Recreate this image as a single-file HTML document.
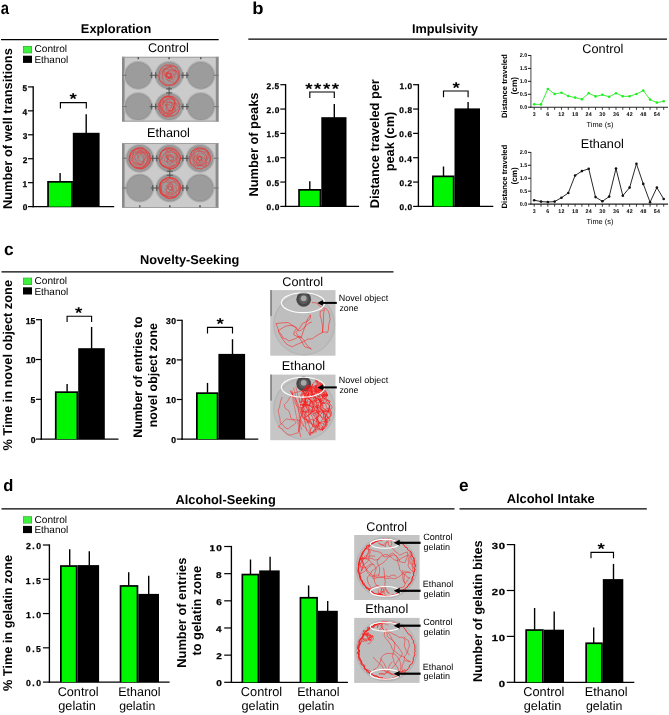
<!DOCTYPE html>
<html><head><meta charset="utf-8"><style>
html,body{margin:0;padding:0;background:#fff;}
svg{display:block;font-family:"Liberation Sans",sans-serif;text-rendering:geometricPrecision;will-change:transform;}
</style></head><body>
<svg width="669" height="715" viewBox="0 0 669 715">
<rect width="669" height="715" fill="#fff"/>
<text x="0.85" y="13.70" font-size="17.50" font-weight="bold" fill="#000" textLength="8.26" lengthAdjust="spacingAndGlyphs">a</text>
<text x="252.38" y="13.60" font-size="17.20" font-weight="bold" fill="#000" textLength="11.27" lengthAdjust="spacingAndGlyphs">b</text>
<text x="3.91" y="254.50" font-size="17.28" font-weight="bold" fill="#000" textLength="9.61" lengthAdjust="spacingAndGlyphs">c</text>
<text x="3.31" y="490.60" font-size="16.60" font-weight="bold" fill="#000" textLength="10.10" lengthAdjust="spacingAndGlyphs">d</text>
<text x="458.91" y="490.60" font-size="17.22" font-weight="bold" fill="#000" textLength="9.58" lengthAdjust="spacingAndGlyphs">e</text>
<line x1="1.00" y1="39.60" x2="218.70" y2="39.60" stroke="#000" stroke-width="1.3"/>
<text x="80.86" y="33.40" font-size="12.79" font-weight="bold" fill="#000" textLength="70.34" lengthAdjust="spacingAndGlyphs">Exploration</text>
<line x1="248.30" y1="39.20" x2="667.00" y2="39.20" stroke="#000" stroke-width="1.3"/>
<text x="411.96" y="33.20" font-size="12.66" font-weight="bold" fill="#000" textLength="66.11" lengthAdjust="spacingAndGlyphs">Impulsivity</text>
<line x1="1.50" y1="271.90" x2="393.50" y2="271.90" stroke="#000" stroke-width="1.3"/>
<text x="139.96" y="264.00" font-size="12.77" font-weight="bold" fill="#000" textLength="99.39" lengthAdjust="spacingAndGlyphs">Novelty-Seeking</text>
<line x1="1.50" y1="508.90" x2="454.50" y2="508.90" stroke="#000" stroke-width="1.3"/>
<text x="175.47" y="503.50" font-size="12.80" font-weight="bold" fill="#000" textLength="100.28" lengthAdjust="spacingAndGlyphs">Alcohol-Seeking</text>
<line x1="459.50" y1="508.80" x2="646.80" y2="508.80" stroke="#000" stroke-width="1.3"/>
<text x="506.66" y="503.20" font-size="12.89" font-weight="bold" fill="#000" textLength="88.08" lengthAdjust="spacingAndGlyphs">Alcohol Intake</text>
<rect x="23.00" y="46.10" width="9.00" height="7.20" fill="#2a9a2a"/>
<rect x="23.50" y="46.60" width="8.00" height="6.20" fill="#40f040"/>
<rect x="23.00" y="55.70" width="9.00" height="7.20" fill="#000"/>
<text x="34.49" y="52.40" font-size="10.10" fill="#000" textLength="32.57" lengthAdjust="spacingAndGlyphs">Control</text>
<text x="34.38" y="62.90" font-size="9.99" fill="#000" textLength="33.87" lengthAdjust="spacingAndGlyphs">Ethanol</text>
<line x1="33.20" y1="86.30" x2="33.20" y2="207.28" stroke="#000" stroke-width="1.35"/>
<line x1="32.53" y1="206.60" x2="114.20" y2="206.60" stroke="#000" stroke-width="1.35"/>
<line x1="28.00" y1="206.60" x2="33.20" y2="206.60" stroke="#000" stroke-width="1.2"/>
<text x="22.72" y="210.46" font-size="8.30" font-weight="bold" fill="#000" stroke="#000" stroke-width="0.25">0</text>
<line x1="28.00" y1="182.66" x2="33.20" y2="182.66" stroke="#000" stroke-width="1.2"/>
<text x="22.62" y="186.52" font-size="8.30" font-weight="bold" fill="#000" stroke="#000" stroke-width="0.25">1</text>
<line x1="28.00" y1="158.72" x2="33.20" y2="158.72" stroke="#000" stroke-width="1.2"/>
<text x="22.72" y="162.62" font-size="8.30" font-weight="bold" fill="#000" stroke="#000" stroke-width="0.25">2</text>
<line x1="28.00" y1="134.78" x2="33.20" y2="134.78" stroke="#000" stroke-width="1.2"/>
<text x="22.68" y="138.63" font-size="8.30" font-weight="bold" fill="#000" stroke="#000" stroke-width="0.25">3</text>
<line x1="28.00" y1="110.84" x2="33.20" y2="110.84" stroke="#000" stroke-width="1.2"/>
<text x="22.44" y="114.70" font-size="8.30" font-weight="bold" fill="#000" stroke="#000" stroke-width="0.25">4</text>
<line x1="28.00" y1="86.90" x2="33.20" y2="86.90" stroke="#000" stroke-width="1.2"/>
<text x="22.62" y="90.71" font-size="8.30" font-weight="bold" fill="#000" stroke="#000" stroke-width="0.25">5</text>
<rect x="47.20" y="181.00" width="25.70" height="25.60" fill="#000"/>
<rect x="48.90" y="182.70" width="22.30" height="23.90" fill="#00f500"/>
<rect x="72.80" y="132.80" width="26.80" height="73.80" fill="#000"/>
<line x1="60.10" y1="181.50" x2="60.10" y2="173.00" stroke="#000" stroke-width="1.4"/>
<line x1="86.20" y1="133.30" x2="86.20" y2="114.20" stroke="#000" stroke-width="1.4"/>
<polyline points="60.40,108.60 60.40,102.60 86.30,102.60 86.30,108.60" fill="none" stroke="#000" stroke-width="1.15"/>
<text font-size="15.59" font-weight="bold" transform="translate(73.20 96.20) scale(1.203 1) translate(-3.06 7.83)">*</text>
<text x="11.90" y="209.05" font-size="12.81" font-weight="bold" fill="#000" textLength="160.85" lengthAdjust="spacingAndGlyphs" transform="rotate(-90 11.90 209.05)">Number of well transitions</text>
<line x1="285.60" y1="84.10" x2="285.60" y2="207.08" stroke="#000" stroke-width="1.35"/>
<line x1="284.93" y1="206.40" x2="359.10" y2="206.40" stroke="#000" stroke-width="1.35"/>
<line x1="280.30" y1="206.40" x2="285.60" y2="206.40" stroke="#000" stroke-width="1.2"/>
<text x="266.60" y="210.26" font-size="8.30" font-weight="bold" fill="#000" letter-spacing="0.6" stroke="#000" stroke-width="0.25">0.0</text>
<line x1="280.30" y1="182.06" x2="285.60" y2="182.06" stroke="#000" stroke-width="1.2"/>
<text x="266.50" y="185.92" font-size="8.30" font-weight="bold" fill="#000" letter-spacing="0.6" stroke="#000" stroke-width="0.25">0.5</text>
<line x1="280.30" y1="157.72" x2="285.60" y2="157.72" stroke="#000" stroke-width="1.2"/>
<text x="266.60" y="161.58" font-size="8.30" font-weight="bold" fill="#000" letter-spacing="0.6" stroke="#000" stroke-width="0.25">1.0</text>
<line x1="280.30" y1="133.38" x2="285.60" y2="133.38" stroke="#000" stroke-width="1.2"/>
<text x="266.50" y="137.19" font-size="8.30" font-weight="bold" fill="#000" letter-spacing="0.6" stroke="#000" stroke-width="0.25">1.5</text>
<line x1="280.30" y1="109.04" x2="285.60" y2="109.04" stroke="#000" stroke-width="1.2"/>
<text x="266.60" y="112.90" font-size="8.30" font-weight="bold" fill="#000" letter-spacing="0.6" stroke="#000" stroke-width="0.25">2.0</text>
<line x1="280.30" y1="84.70" x2="285.60" y2="84.70" stroke="#000" stroke-width="1.2"/>
<text x="266.50" y="88.56" font-size="8.30" font-weight="bold" fill="#000" letter-spacing="0.6" stroke="#000" stroke-width="0.25">2.5</text>
<rect x="298.20" y="189.00" width="23.10" height="17.40" fill="#000"/>
<rect x="299.90" y="190.70" width="19.70" height="15.70" fill="#00f500"/>
<rect x="321.30" y="117.20" width="25.20" height="89.20" fill="#000"/>
<line x1="309.80" y1="189.50" x2="309.80" y2="181.20" stroke="#000" stroke-width="1.4"/>
<line x1="334.30" y1="117.70" x2="334.30" y2="104.00" stroke="#000" stroke-width="1.4"/>
<polyline points="309.80,97.90 309.80,92.00 334.30,92.00 334.30,97.90" fill="none" stroke="#000" stroke-width="1.15"/>
<text font-size="15.59" font-weight="bold" transform="translate(308.85 86.20) scale(1.203 1) translate(-3.06 7.83)">*</text>
<text font-size="15.59" font-weight="bold" transform="translate(317.75 86.20) scale(1.203 1) translate(-3.06 7.83)">*</text>
<text font-size="15.59" font-weight="bold" transform="translate(326.65 86.20) scale(1.203 1) translate(-3.06 7.83)">*</text>
<text font-size="15.59" font-weight="bold" transform="translate(335.55 86.20) scale(1.203 1) translate(-3.06 7.83)">*</text>
<text x="258.20" y="196.55" font-size="12.82" font-weight="bold" fill="#000" textLength="104.05" lengthAdjust="spacingAndGlyphs" transform="rotate(-90 258.20 196.55)">Number of peaks</text>
<line x1="418.40" y1="84.10" x2="418.40" y2="207.08" stroke="#000" stroke-width="1.35"/>
<line x1="417.72" y1="206.40" x2="493.30" y2="206.40" stroke="#000" stroke-width="1.35"/>
<line x1="413.10" y1="206.40" x2="418.40" y2="206.40" stroke="#000" stroke-width="1.2"/>
<text x="399.39" y="210.26" font-size="8.30" font-weight="bold" fill="#000" letter-spacing="0.6" stroke="#000" stroke-width="0.25">0.0</text>
<line x1="413.10" y1="182.06" x2="418.40" y2="182.06" stroke="#000" stroke-width="1.2"/>
<text x="399.39" y="185.92" font-size="8.30" font-weight="bold" fill="#000" letter-spacing="0.6" stroke="#000" stroke-width="0.25">0.2</text>
<line x1="413.10" y1="157.72" x2="418.40" y2="157.72" stroke="#000" stroke-width="1.2"/>
<text x="399.11" y="161.58" font-size="8.30" font-weight="bold" fill="#000" letter-spacing="0.6" stroke="#000" stroke-width="0.25">0.4</text>
<line x1="413.10" y1="133.38" x2="418.40" y2="133.38" stroke="#000" stroke-width="1.2"/>
<text x="399.36" y="137.24" font-size="8.30" font-weight="bold" fill="#000" letter-spacing="0.6" stroke="#000" stroke-width="0.25">0.6</text>
<line x1="413.10" y1="109.04" x2="418.40" y2="109.04" stroke="#000" stroke-width="1.2"/>
<text x="399.31" y="112.90" font-size="8.30" font-weight="bold" fill="#000" letter-spacing="0.6" stroke="#000" stroke-width="0.25">0.8</text>
<line x1="413.10" y1="84.70" x2="418.40" y2="84.70" stroke="#000" stroke-width="1.2"/>
<text x="399.39" y="88.56" font-size="8.30" font-weight="bold" fill="#000" letter-spacing="0.6" stroke="#000" stroke-width="0.25">1.0</text>
<rect x="432.00" y="175.50" width="22.50" height="30.90" fill="#000"/>
<rect x="433.70" y="177.20" width="19.10" height="29.20" fill="#00f500"/>
<rect x="454.50" y="108.40" width="25.50" height="98.00" fill="#000"/>
<line x1="443.50" y1="176.00" x2="443.50" y2="166.50" stroke="#000" stroke-width="1.4"/>
<line x1="468.10" y1="108.90" x2="468.10" y2="102.00" stroke="#000" stroke-width="1.4"/>
<polyline points="443.50,97.30 443.50,91.00 468.10,91.00 468.10,97.30" fill="none" stroke="#000" stroke-width="1.15"/>
<text font-size="15.59" font-weight="bold" transform="translate(456.10 85.20) scale(1.203 1) translate(-3.06 7.83)">*</text>
<text x="378.60" y="208.24" font-size="12.76" font-weight="bold" fill="#000" textLength="129.04" lengthAdjust="spacingAndGlyphs" transform="rotate(-90 378.60 208.24)">Distance traveled per</text>
<text x="394.30" y="171.34" font-size="12.78" font-weight="bold" fill="#000" textLength="59.66" lengthAdjust="spacingAndGlyphs" transform="rotate(-90 394.30 171.34)">peak (cm)</text>
<line x1="530.90" y1="55.08" x2="530.90" y2="107.70" stroke="#666" stroke-width="1.2"/>
<line x1="530.40" y1="107.20" x2="668.00" y2="107.20" stroke="#222" stroke-width="1.1"/>
<line x1="528.00" y1="107.20" x2="530.90" y2="107.20" stroke="#000" stroke-width="0.9"/>
<text x="519.77" y="109.20" font-size="5.50" font-weight="bold" fill="#000">0.0</text>
<line x1="528.00" y1="94.27" x2="530.90" y2="94.27" stroke="#000" stroke-width="0.9"/>
<text x="519.71" y="96.27" font-size="5.50" font-weight="bold" fill="#000">0.5</text>
<line x1="528.00" y1="81.34" x2="530.90" y2="81.34" stroke="#000" stroke-width="0.9"/>
<text x="519.77" y="83.34" font-size="5.50" font-weight="bold" fill="#000">1.0</text>
<line x1="528.00" y1="68.41" x2="530.90" y2="68.41" stroke="#000" stroke-width="0.9"/>
<text x="519.71" y="70.41" font-size="5.50" font-weight="bold" fill="#000">1.5</text>
<line x1="528.00" y1="55.48" x2="530.90" y2="55.48" stroke="#000" stroke-width="0.9"/>
<text x="519.77" y="57.48" font-size="5.50" font-weight="bold" fill="#000">2.0</text>
<line x1="534.20" y1="107.20" x2="534.20" y2="109.80" stroke="#222" stroke-width="0.9"/>
<line x1="541.02" y1="107.20" x2="541.02" y2="109.80" stroke="#222" stroke-width="0.9"/>
<line x1="547.83" y1="107.20" x2="547.83" y2="109.80" stroke="#222" stroke-width="0.9"/>
<line x1="554.65" y1="107.20" x2="554.65" y2="109.80" stroke="#222" stroke-width="0.9"/>
<line x1="561.46" y1="107.20" x2="561.46" y2="109.80" stroke="#222" stroke-width="0.9"/>
<line x1="568.28" y1="107.20" x2="568.28" y2="109.80" stroke="#222" stroke-width="0.9"/>
<line x1="575.10" y1="107.20" x2="575.10" y2="109.80" stroke="#222" stroke-width="0.9"/>
<line x1="581.91" y1="107.20" x2="581.91" y2="109.80" stroke="#222" stroke-width="0.9"/>
<line x1="588.73" y1="107.20" x2="588.73" y2="109.80" stroke="#222" stroke-width="0.9"/>
<line x1="595.54" y1="107.20" x2="595.54" y2="109.80" stroke="#222" stroke-width="0.9"/>
<line x1="602.36" y1="107.20" x2="602.36" y2="109.80" stroke="#222" stroke-width="0.9"/>
<line x1="609.18" y1="107.20" x2="609.18" y2="109.80" stroke="#222" stroke-width="0.9"/>
<line x1="615.99" y1="107.20" x2="615.99" y2="109.80" stroke="#222" stroke-width="0.9"/>
<line x1="622.81" y1="107.20" x2="622.81" y2="109.80" stroke="#222" stroke-width="0.9"/>
<line x1="629.62" y1="107.20" x2="629.62" y2="109.80" stroke="#222" stroke-width="0.9"/>
<line x1="636.44" y1="107.20" x2="636.44" y2="109.80" stroke="#222" stroke-width="0.9"/>
<line x1="643.26" y1="107.20" x2="643.26" y2="109.80" stroke="#222" stroke-width="0.9"/>
<line x1="650.07" y1="107.20" x2="650.07" y2="109.80" stroke="#222" stroke-width="0.9"/>
<line x1="656.89" y1="107.20" x2="656.89" y2="109.80" stroke="#222" stroke-width="0.9"/>
<line x1="663.70" y1="107.20" x2="663.70" y2="109.80" stroke="#222" stroke-width="0.9"/>
<text x="532.76" y="115.80" font-size="5.30" font-weight="bold" fill="#000" letter-spacing="0.3">3</text>
<text x="546.36" y="115.80" font-size="5.30" font-weight="bold" fill="#000" letter-spacing="0.3">6</text>
<text x="558.30" y="115.80" font-size="5.30" font-weight="bold" fill="#000" letter-spacing="0.3">12</text>
<text x="571.91" y="115.80" font-size="5.30" font-weight="bold" fill="#000" letter-spacing="0.3">18</text>
<text x="585.56" y="115.80" font-size="5.30" font-weight="bold" fill="#000" letter-spacing="0.3">24</text>
<text x="599.31" y="115.80" font-size="5.30" font-weight="bold" fill="#000" letter-spacing="0.3">30</text>
<text x="612.93" y="115.80" font-size="5.30" font-weight="bold" fill="#000" letter-spacing="0.3">36</text>
<text x="626.59" y="115.80" font-size="5.30" font-weight="bold" fill="#000" letter-spacing="0.3">42</text>
<text x="640.20" y="115.80" font-size="5.30" font-weight="bold" fill="#000" letter-spacing="0.3">48</text>
<text x="653.72" y="115.80" font-size="5.30" font-weight="bold" fill="#000" letter-spacing="0.3">54</text>
<path d="M534.20,104.30 L541.02,104.40 L547.83,89.00 L554.65,94.00 L561.46,92.70 L568.28,96.00 L575.10,97.60 L581.91,99.30 L588.73,93.20 L595.54,96.40 L602.36,94.80 L609.18,96.80 L615.99,93.20 L622.81,96.30 L629.62,96.30 L636.44,94.00 L643.26,90.60 L650.07,99.60 L656.89,102.60 L663.70,101.30" fill="none" stroke="#22ee22" stroke-width="0.9"/>
<circle cx="534.20" cy="104.30" r="1.3" fill="#22ee22"/>
<circle cx="541.02" cy="104.40" r="1.3" fill="#22ee22"/>
<circle cx="547.83" cy="89.00" r="1.3" fill="#22ee22"/>
<circle cx="554.65" cy="94.00" r="1.3" fill="#22ee22"/>
<circle cx="561.46" cy="92.70" r="1.3" fill="#22ee22"/>
<circle cx="568.28" cy="96.00" r="1.3" fill="#22ee22"/>
<circle cx="575.10" cy="97.60" r="1.3" fill="#22ee22"/>
<circle cx="581.91" cy="99.30" r="1.3" fill="#22ee22"/>
<circle cx="588.73" cy="93.20" r="1.3" fill="#22ee22"/>
<circle cx="595.54" cy="96.40" r="1.3" fill="#22ee22"/>
<circle cx="602.36" cy="94.80" r="1.3" fill="#22ee22"/>
<circle cx="609.18" cy="96.80" r="1.3" fill="#22ee22"/>
<circle cx="615.99" cy="93.20" r="1.3" fill="#22ee22"/>
<circle cx="622.81" cy="96.30" r="1.3" fill="#22ee22"/>
<circle cx="629.62" cy="96.30" r="1.3" fill="#22ee22"/>
<circle cx="636.44" cy="94.00" r="1.3" fill="#22ee22"/>
<circle cx="643.26" cy="90.60" r="1.3" fill="#22ee22"/>
<circle cx="650.07" cy="99.60" r="1.3" fill="#22ee22"/>
<circle cx="656.89" cy="102.60" r="1.3" fill="#22ee22"/>
<circle cx="663.70" cy="101.30" r="1.3" fill="#22ee22"/>
<text x="586.54" y="126.90" font-size="7.39" fill="#000" textLength="26.83" lengthAdjust="spacingAndGlyphs">Time (s)</text>
<text x="582.36" y="53.20" font-size="12.71" fill="#000" textLength="40.97" lengthAdjust="spacingAndGlyphs">Control</text>
<text x="507.30" y="118.01" font-size="7.71" font-weight="bold" fill="#000" textLength="63.83" lengthAdjust="spacingAndGlyphs" transform="rotate(-90 507.30 118.01)">Distance traveled</text>
<text x="516.90" y="94.52" font-size="8.35" font-weight="bold" fill="#000" textLength="17.63" lengthAdjust="spacingAndGlyphs" transform="rotate(-90 516.90 94.52)">(cm)</text>
<line x1="530.90" y1="151.98" x2="530.90" y2="204.60" stroke="#666" stroke-width="1.2"/>
<line x1="530.40" y1="204.10" x2="668.00" y2="204.10" stroke="#222" stroke-width="1.1"/>
<line x1="528.00" y1="204.10" x2="530.90" y2="204.10" stroke="#000" stroke-width="0.9"/>
<text x="519.77" y="206.10" font-size="5.50" font-weight="bold" fill="#000">0.0</text>
<line x1="528.00" y1="191.17" x2="530.90" y2="191.17" stroke="#000" stroke-width="0.9"/>
<text x="519.71" y="193.17" font-size="5.50" font-weight="bold" fill="#000">0.5</text>
<line x1="528.00" y1="178.24" x2="530.90" y2="178.24" stroke="#000" stroke-width="0.9"/>
<text x="519.77" y="180.24" font-size="5.50" font-weight="bold" fill="#000">1.0</text>
<line x1="528.00" y1="165.31" x2="530.90" y2="165.31" stroke="#000" stroke-width="0.9"/>
<text x="519.71" y="167.31" font-size="5.50" font-weight="bold" fill="#000">1.5</text>
<line x1="528.00" y1="152.38" x2="530.90" y2="152.38" stroke="#000" stroke-width="0.9"/>
<text x="519.77" y="154.38" font-size="5.50" font-weight="bold" fill="#000">2.0</text>
<line x1="534.20" y1="204.10" x2="534.20" y2="206.70" stroke="#222" stroke-width="0.9"/>
<line x1="541.02" y1="204.10" x2="541.02" y2="206.70" stroke="#222" stroke-width="0.9"/>
<line x1="547.83" y1="204.10" x2="547.83" y2="206.70" stroke="#222" stroke-width="0.9"/>
<line x1="554.65" y1="204.10" x2="554.65" y2="206.70" stroke="#222" stroke-width="0.9"/>
<line x1="561.46" y1="204.10" x2="561.46" y2="206.70" stroke="#222" stroke-width="0.9"/>
<line x1="568.28" y1="204.10" x2="568.28" y2="206.70" stroke="#222" stroke-width="0.9"/>
<line x1="575.10" y1="204.10" x2="575.10" y2="206.70" stroke="#222" stroke-width="0.9"/>
<line x1="581.91" y1="204.10" x2="581.91" y2="206.70" stroke="#222" stroke-width="0.9"/>
<line x1="588.73" y1="204.10" x2="588.73" y2="206.70" stroke="#222" stroke-width="0.9"/>
<line x1="595.54" y1="204.10" x2="595.54" y2="206.70" stroke="#222" stroke-width="0.9"/>
<line x1="602.36" y1="204.10" x2="602.36" y2="206.70" stroke="#222" stroke-width="0.9"/>
<line x1="609.18" y1="204.10" x2="609.18" y2="206.70" stroke="#222" stroke-width="0.9"/>
<line x1="615.99" y1="204.10" x2="615.99" y2="206.70" stroke="#222" stroke-width="0.9"/>
<line x1="622.81" y1="204.10" x2="622.81" y2="206.70" stroke="#222" stroke-width="0.9"/>
<line x1="629.62" y1="204.10" x2="629.62" y2="206.70" stroke="#222" stroke-width="0.9"/>
<line x1="636.44" y1="204.10" x2="636.44" y2="206.70" stroke="#222" stroke-width="0.9"/>
<line x1="643.26" y1="204.10" x2="643.26" y2="206.70" stroke="#222" stroke-width="0.9"/>
<line x1="650.07" y1="204.10" x2="650.07" y2="206.70" stroke="#222" stroke-width="0.9"/>
<line x1="656.89" y1="204.10" x2="656.89" y2="206.70" stroke="#222" stroke-width="0.9"/>
<line x1="663.70" y1="204.10" x2="663.70" y2="206.70" stroke="#222" stroke-width="0.9"/>
<text x="532.76" y="212.70" font-size="5.30" font-weight="bold" fill="#000" letter-spacing="0.3">3</text>
<text x="546.36" y="212.70" font-size="5.30" font-weight="bold" fill="#000" letter-spacing="0.3">6</text>
<text x="558.30" y="212.70" font-size="5.30" font-weight="bold" fill="#000" letter-spacing="0.3">12</text>
<text x="571.91" y="212.70" font-size="5.30" font-weight="bold" fill="#000" letter-spacing="0.3">18</text>
<text x="585.56" y="212.70" font-size="5.30" font-weight="bold" fill="#000" letter-spacing="0.3">24</text>
<text x="599.31" y="212.70" font-size="5.30" font-weight="bold" fill="#000" letter-spacing="0.3">30</text>
<text x="612.93" y="212.70" font-size="5.30" font-weight="bold" fill="#000" letter-spacing="0.3">36</text>
<text x="626.59" y="212.70" font-size="5.30" font-weight="bold" fill="#000" letter-spacing="0.3">42</text>
<text x="640.20" y="212.70" font-size="5.30" font-weight="bold" fill="#000" letter-spacing="0.3">48</text>
<text x="653.72" y="212.70" font-size="5.30" font-weight="bold" fill="#000" letter-spacing="0.3">54</text>
<path d="M534.20,200.20 L541.02,201.60 L547.83,202.00 L554.65,201.60 L561.46,197.70 L568.28,193.00 L575.10,175.50 L581.91,171.10 L588.73,168.80 L595.54,197.10 L602.36,201.30 L609.18,196.60 L615.99,168.50 L622.81,195.70 L629.62,187.60 L636.44,163.80 L643.26,183.90 L650.07,202.20 L656.89,187.60 L663.70,199.00" fill="none" stroke="#111" stroke-width="0.9"/>
<circle cx="534.20" cy="200.20" r="1.3" fill="#111"/>
<circle cx="541.02" cy="201.60" r="1.3" fill="#111"/>
<circle cx="547.83" cy="202.00" r="1.3" fill="#111"/>
<circle cx="554.65" cy="201.60" r="1.3" fill="#111"/>
<circle cx="561.46" cy="197.70" r="1.3" fill="#111"/>
<circle cx="568.28" cy="193.00" r="1.3" fill="#111"/>
<circle cx="575.10" cy="175.50" r="1.3" fill="#111"/>
<circle cx="581.91" cy="171.10" r="1.3" fill="#111"/>
<circle cx="588.73" cy="168.80" r="1.3" fill="#111"/>
<circle cx="595.54" cy="197.10" r="1.3" fill="#111"/>
<circle cx="602.36" cy="201.30" r="1.3" fill="#111"/>
<circle cx="609.18" cy="196.60" r="1.3" fill="#111"/>
<circle cx="615.99" cy="168.50" r="1.3" fill="#111"/>
<circle cx="622.81" cy="195.70" r="1.3" fill="#111"/>
<circle cx="629.62" cy="187.60" r="1.3" fill="#111"/>
<circle cx="636.44" cy="163.80" r="1.3" fill="#111"/>
<circle cx="643.26" cy="183.90" r="1.3" fill="#111"/>
<circle cx="650.07" cy="202.20" r="1.3" fill="#111"/>
<circle cx="656.89" cy="187.60" r="1.3" fill="#111"/>
<circle cx="663.70" cy="199.00" r="1.3" fill="#111"/>
<text x="586.54" y="223.80" font-size="7.39" fill="#000" textLength="26.83" lengthAdjust="spacingAndGlyphs">Time (s)</text>
<text x="580.76" y="148.00" font-size="12.70" fill="#000" textLength="43.07" lengthAdjust="spacingAndGlyphs">Ethanol</text>
<text x="507.30" y="208.51" font-size="7.71" font-weight="bold" fill="#000" textLength="63.83" lengthAdjust="spacingAndGlyphs" transform="rotate(-90 507.30 208.51)">Distance traveled</text>
<text x="516.90" y="184.41" font-size="8.10" font-weight="bold" fill="#000" textLength="17.10" lengthAdjust="spacingAndGlyphs" transform="rotate(-90 516.90 184.41)">(cm)</text>
<rect x="23.00" y="277.70" width="9.00" height="7.20" fill="#2a9a2a"/>
<rect x="23.50" y="278.20" width="8.00" height="6.20" fill="#40f040"/>
<rect x="23.00" y="287.30" width="9.00" height="7.20" fill="#000"/>
<text x="34.49" y="284.20" font-size="10.10" fill="#000" textLength="32.57" lengthAdjust="spacingAndGlyphs">Control</text>
<text x="34.38" y="294.60" font-size="9.99" fill="#000" textLength="33.87" lengthAdjust="spacingAndGlyphs">Ethanol</text>
<line x1="41.30" y1="319.10" x2="41.30" y2="439.78" stroke="#000" stroke-width="1.35"/>
<line x1="40.62" y1="439.10" x2="118.50" y2="439.10" stroke="#000" stroke-width="1.35"/>
<line x1="36.00" y1="439.10" x2="41.30" y2="439.10" stroke="#000" stroke-width="1.2"/>
<text x="30.66" y="443.06" font-size="8.60" font-weight="bold" fill="#000" stroke="#000" stroke-width="0.25">0</text>
<line x1="36.00" y1="399.30" x2="41.30" y2="399.30" stroke="#000" stroke-width="1.2"/>
<text x="30.56" y="403.22" font-size="8.60" font-weight="bold" fill="#000" stroke="#000" stroke-width="0.25">5</text>
<line x1="36.00" y1="359.50" x2="41.30" y2="359.50" stroke="#000" stroke-width="1.2"/>
<text x="25.88" y="363.46" font-size="8.60" font-weight="bold" fill="#000" stroke="#000" stroke-width="0.25">10</text>
<line x1="36.00" y1="319.70" x2="41.30" y2="319.70" stroke="#000" stroke-width="1.2"/>
<text x="25.78" y="323.62" font-size="8.60" font-weight="bold" fill="#000" stroke="#000" stroke-width="0.25">15</text>
<rect x="54.90" y="391.30" width="23.30" height="47.80" fill="#000"/>
<rect x="56.60" y="393.00" width="19.90" height="46.10" fill="#00f500"/>
<rect x="78.20" y="348.20" width="26.60" height="90.90" fill="#000"/>
<line x1="67.10" y1="391.80" x2="67.10" y2="383.90" stroke="#000" stroke-width="1.4"/>
<line x1="91.60" y1="348.70" x2="91.60" y2="326.90" stroke="#000" stroke-width="1.4"/>
<polyline points="67.10,322.00 67.10,316.20 91.60,316.20 91.60,322.00" fill="none" stroke="#000" stroke-width="1.15"/>
<text font-size="15.59" font-weight="bold" transform="translate(78.60 310.40) scale(1.203 1) translate(-3.06 7.83)">*</text>
<text x="12.00" y="450.61" font-size="12.81" font-weight="bold" fill="#000" textLength="170.64" lengthAdjust="spacingAndGlyphs" transform="rotate(-90 12.00 450.61)">% Time in novel object zone</text>
<line x1="182.10" y1="319.70" x2="182.10" y2="439.78" stroke="#000" stroke-width="1.35"/>
<line x1="181.42" y1="439.10" x2="258.30" y2="439.10" stroke="#000" stroke-width="1.35"/>
<line x1="176.80" y1="439.10" x2="182.10" y2="439.10" stroke="#000" stroke-width="1.2"/>
<text x="171.16" y="443.06" font-size="8.60" font-weight="bold" fill="#000" letter-spacing="0.3" stroke="#000" stroke-width="0.25">0</text>
<line x1="176.80" y1="399.50" x2="182.10" y2="399.50" stroke="#000" stroke-width="1.2"/>
<text x="166.08" y="403.46" font-size="8.60" font-weight="bold" fill="#000" letter-spacing="0.3" stroke="#000" stroke-width="0.25">10</text>
<line x1="176.80" y1="359.90" x2="182.10" y2="359.90" stroke="#000" stroke-width="1.2"/>
<text x="166.08" y="363.86" font-size="8.60" font-weight="bold" fill="#000" letter-spacing="0.3" stroke="#000" stroke-width="0.25">20</text>
<line x1="176.80" y1="320.30" x2="182.10" y2="320.30" stroke="#000" stroke-width="1.2"/>
<text x="166.08" y="324.25" font-size="8.60" font-weight="bold" fill="#000" letter-spacing="0.3" stroke="#000" stroke-width="0.25">30</text>
<rect x="196.00" y="392.30" width="22.40" height="46.80" fill="#000"/>
<rect x="197.70" y="394.00" width="19.00" height="45.10" fill="#00f500"/>
<rect x="218.40" y="353.90" width="26.70" height="85.20" fill="#000"/>
<line x1="207.50" y1="392.80" x2="207.50" y2="382.90" stroke="#000" stroke-width="1.4"/>
<line x1="232.50" y1="354.40" x2="232.50" y2="339.20" stroke="#000" stroke-width="1.4"/>
<polyline points="207.50,333.60 207.50,327.30 232.50,327.30 232.50,333.60" fill="none" stroke="#000" stroke-width="1.15"/>
<text font-size="15.59" font-weight="bold" transform="translate(220.10 321.20) scale(1.203 1) translate(-3.06 7.83)">*</text>
<text x="142.10" y="437.72" font-size="12.41" font-weight="bold" fill="#000" textLength="121.40" lengthAdjust="spacingAndGlyphs" transform="rotate(-90 142.10 437.72)">Number of entries to</text>
<text x="157.40" y="427.32" font-size="12.42" font-weight="bold" fill="#000" textLength="104.25" lengthAdjust="spacingAndGlyphs" transform="rotate(-90 157.40 427.32)">novel object zone</text>
<rect x="23.00" y="516.30" width="9.00" height="7.20" fill="#2a9a2a"/>
<rect x="23.50" y="516.80" width="8.00" height="6.20" fill="#40f040"/>
<rect x="23.00" y="525.90" width="9.00" height="7.20" fill="#000"/>
<text x="34.49" y="522.90" font-size="10.10" fill="#000" textLength="32.57" lengthAdjust="spacingAndGlyphs">Control</text>
<text x="34.38" y="533.20" font-size="9.99" fill="#000" textLength="33.87" lengthAdjust="spacingAndGlyphs">Ethanol</text>
<line x1="49.40" y1="544.40" x2="49.40" y2="682.77" stroke="#000" stroke-width="1.35"/>
<line x1="48.73" y1="682.10" x2="169.60" y2="682.10" stroke="#000" stroke-width="1.35"/>
<line x1="42.90" y1="682.10" x2="49.40" y2="682.10" stroke="#000" stroke-width="1.2"/>
<text x="25.95" y="686.49" font-size="8.70" font-weight="bold" fill="#000" letter-spacing="1.5" stroke="#000" stroke-width="0.25">0.0</text>
<line x1="42.90" y1="647.83" x2="49.40" y2="647.83" stroke="#000" stroke-width="1.2"/>
<text x="25.85" y="652.22" font-size="8.70" font-weight="bold" fill="#000" letter-spacing="1.5" stroke="#000" stroke-width="0.25">0.5</text>
<line x1="42.90" y1="613.55" x2="49.40" y2="613.55" stroke="#000" stroke-width="1.2"/>
<text x="25.95" y="617.94" font-size="8.70" font-weight="bold" fill="#000" letter-spacing="1.5" stroke="#000" stroke-width="0.25">1.0</text>
<line x1="42.90" y1="579.28" x2="49.40" y2="579.28" stroke="#000" stroke-width="1.2"/>
<text x="25.85" y="583.62" font-size="8.70" font-weight="bold" fill="#000" letter-spacing="1.5" stroke="#000" stroke-width="0.25">1.5</text>
<line x1="42.90" y1="545.00" x2="49.40" y2="545.00" stroke="#000" stroke-width="1.2"/>
<text x="25.95" y="549.39" font-size="8.70" font-weight="bold" fill="#000" letter-spacing="1.5" stroke="#000" stroke-width="0.25">2.0</text>
<rect x="60.00" y="565.20" width="17.50" height="116.90" fill="#000"/>
<rect x="61.70" y="566.90" width="14.10" height="115.20" fill="#00f500"/>
<rect x="77.50" y="565.10" width="21.60" height="117.00" fill="#000"/>
<line x1="69.70" y1="565.70" x2="69.70" y2="549.20" stroke="#000" stroke-width="1.4"/>
<line x1="89.30" y1="565.60" x2="89.30" y2="551.30" stroke="#000" stroke-width="1.4"/>
<rect x="119.70" y="585.10" width="18.60" height="97.00" fill="#000"/>
<rect x="121.40" y="586.80" width="15.20" height="95.30" fill="#00f500"/>
<rect x="138.30" y="593.90" width="20.70" height="88.20" fill="#000"/>
<line x1="128.70" y1="585.60" x2="128.70" y2="572.20" stroke="#000" stroke-width="1.4"/>
<line x1="148.70" y1="594.40" x2="148.70" y2="575.80" stroke="#000" stroke-width="1.4"/>
<text x="57.67" y="695.60" font-size="12.68" fill="#000" textLength="40.87" lengthAdjust="spacingAndGlyphs">Control</text>
<text x="58.26" y="709.80" font-size="12.78" fill="#000" textLength="37.66" lengthAdjust="spacingAndGlyphs">gelatin</text>
<text x="118.17" y="695.60" font-size="12.52" fill="#000" textLength="42.45" lengthAdjust="spacingAndGlyphs">Ethanol</text>
<text x="119.18" y="709.80" font-size="12.29" fill="#000" textLength="36.21" lengthAdjust="spacingAndGlyphs">gelatin</text>
<text x="12.20" y="691.01" font-size="12.72" font-weight="bold" fill="#000" textLength="136.13" lengthAdjust="spacingAndGlyphs" transform="rotate(-90 12.20 691.01)">% Time in gelatin zone</text>
<line x1="231.40" y1="545.90" x2="231.40" y2="682.97" stroke="#000" stroke-width="1.35"/>
<line x1="230.72" y1="682.30" x2="347.90" y2="682.30" stroke="#000" stroke-width="1.35"/>
<line x1="224.20" y1="682.30" x2="231.40" y2="682.30" stroke="#000" stroke-width="1.2"/>
<text x="217.01" y="686.42" font-size="8.50" font-weight="bold" fill="#000" letter-spacing="1.0" transform="translate(221.40 0) scale(1.18 1) translate(-221.40 0)" stroke="#000" stroke-width="0.25">0</text>
<line x1="224.20" y1="655.14" x2="231.40" y2="655.14" stroke="#000" stroke-width="1.2"/>
<text x="217.01" y="659.31" font-size="8.50" font-weight="bold" fill="#000" letter-spacing="1.0" transform="translate(221.40 0) scale(1.18 1) translate(-221.40 0)" stroke="#000" stroke-width="0.25">2</text>
<line x1="224.20" y1="627.98" x2="231.40" y2="627.98" stroke="#000" stroke-width="1.2"/>
<text x="216.72" y="632.10" font-size="8.50" font-weight="bold" fill="#000" letter-spacing="1.0" transform="translate(221.40 0) scale(1.18 1) translate(-221.40 0)" stroke="#000" stroke-width="0.25">4</text>
<line x1="224.20" y1="600.82" x2="231.40" y2="600.82" stroke="#000" stroke-width="1.2"/>
<text x="216.98" y="604.94" font-size="8.50" font-weight="bold" fill="#000" letter-spacing="1.0" transform="translate(221.40 0) scale(1.18 1) translate(-221.40 0)" stroke="#000" stroke-width="0.25">6</text>
<line x1="224.20" y1="573.66" x2="231.40" y2="573.66" stroke="#000" stroke-width="1.2"/>
<text x="216.93" y="577.78" font-size="8.50" font-weight="bold" fill="#000" letter-spacing="1.0" transform="translate(221.40 0) scale(1.18 1) translate(-221.40 0)" stroke="#000" stroke-width="0.25">8</text>
<line x1="224.20" y1="546.50" x2="231.40" y2="546.50" stroke="#000" stroke-width="1.2"/>
<text x="211.29" y="550.62" font-size="8.50" font-weight="bold" fill="#000" letter-spacing="1.0" transform="translate(221.40 0) scale(1.18 1) translate(-221.40 0)" stroke="#000" stroke-width="0.25">10</text>
<rect x="241.50" y="573.70" width="17.70" height="108.60" fill="#000"/>
<rect x="243.20" y="575.40" width="14.30" height="106.90" fill="#00f500"/>
<rect x="259.20" y="570.40" width="20.50" height="111.90" fill="#000"/>
<line x1="250.50" y1="574.20" x2="250.50" y2="559.50" stroke="#000" stroke-width="1.4"/>
<line x1="270.10" y1="570.90" x2="270.10" y2="556.80" stroke="#000" stroke-width="1.4"/>
<rect x="299.60" y="596.90" width="18.30" height="85.40" fill="#000"/>
<rect x="301.30" y="598.60" width="14.90" height="83.70" fill="#00f500"/>
<rect x="317.90" y="610.80" width="19.90" height="71.50" fill="#000"/>
<line x1="308.60" y1="597.40" x2="308.60" y2="585.40" stroke="#000" stroke-width="1.4"/>
<line x1="327.70" y1="611.30" x2="327.70" y2="601.00" stroke="#000" stroke-width="1.4"/>
<text x="240.86" y="695.60" font-size="12.81" fill="#000" textLength="41.28" lengthAdjust="spacingAndGlyphs">Control</text>
<text x="241.46" y="709.80" font-size="12.78" fill="#000" textLength="37.66" lengthAdjust="spacingAndGlyphs">gelatin</text>
<text x="297.17" y="695.60" font-size="12.52" fill="#000" textLength="42.45" lengthAdjust="spacingAndGlyphs">Ethanol</text>
<text x="298.18" y="709.80" font-size="12.29" fill="#000" textLength="36.21" lengthAdjust="spacingAndGlyphs">gelatin</text>
<text x="186.10" y="667.75" font-size="12.86" font-weight="bold" fill="#000" textLength="110.05" lengthAdjust="spacingAndGlyphs" transform="rotate(-90 186.10 667.75)">Number of entries</text>
<text x="201.50" y="655.55" font-size="12.80" font-weight="bold" fill="#000" textLength="89.59" lengthAdjust="spacingAndGlyphs" transform="rotate(-90 201.50 655.55)">to gelatin zone</text>
<line x1="514.50" y1="544.00" x2="514.50" y2="682.97" stroke="#000" stroke-width="1.35"/>
<line x1="513.83" y1="682.30" x2="634.30" y2="682.30" stroke="#000" stroke-width="1.35"/>
<line x1="506.80" y1="682.30" x2="514.50" y2="682.30" stroke="#000" stroke-width="1.2"/>
<text x="499.96" y="686.53" font-size="8.80" font-weight="bold" fill="#000" letter-spacing="0.6" transform="translate(504.50 0) scale(1.28 1) translate(-504.50 0)" stroke="#000" stroke-width="0.25">0</text>
<line x1="506.80" y1="636.40" x2="514.50" y2="636.40" stroke="#000" stroke-width="1.2"/>
<text x="494.47" y="640.63" font-size="8.80" font-weight="bold" fill="#000" letter-spacing="0.6" transform="translate(504.50 0) scale(1.28 1) translate(-504.50 0)" stroke="#000" stroke-width="0.25">10</text>
<line x1="506.80" y1="590.50" x2="514.50" y2="590.50" stroke="#000" stroke-width="1.2"/>
<text x="494.47" y="594.73" font-size="8.80" font-weight="bold" fill="#000" letter-spacing="0.6" transform="translate(504.50 0) scale(1.28 1) translate(-504.50 0)" stroke="#000" stroke-width="0.25">20</text>
<line x1="506.80" y1="544.60" x2="514.50" y2="544.60" stroke="#000" stroke-width="1.2"/>
<text x="494.47" y="548.82" font-size="8.80" font-weight="bold" fill="#000" letter-spacing="0.6" transform="translate(504.50 0) scale(1.28 1) translate(-504.50 0)" stroke="#000" stroke-width="0.25">30</text>
<rect x="525.30" y="629.20" width="18.40" height="53.10" fill="#000"/>
<rect x="527.00" y="630.90" width="15.00" height="51.40" fill="#00f500"/>
<rect x="543.70" y="629.70" width="20.30" height="52.60" fill="#000"/>
<line x1="534.60" y1="629.70" x2="534.60" y2="608.00" stroke="#000" stroke-width="1.4"/>
<line x1="554.20" y1="630.20" x2="554.20" y2="611.50" stroke="#000" stroke-width="1.4"/>
<rect x="585.30" y="642.40" width="17.50" height="39.90" fill="#000"/>
<rect x="587.00" y="644.10" width="14.10" height="38.20" fill="#00f500"/>
<rect x="602.80" y="579.10" width="20.50" height="103.20" fill="#000"/>
<line x1="593.70" y1="642.90" x2="593.70" y2="627.50" stroke="#000" stroke-width="1.4"/>
<line x1="613.50" y1="579.60" x2="613.50" y2="563.90" stroke="#000" stroke-width="1.4"/>
<polyline points="591.00,558.20 591.00,552.30 613.50,552.30 613.50,558.20" fill="none" stroke="#000" stroke-width="1.15"/>
<text font-size="15.59" font-weight="bold" transform="translate(601.30 546.20) scale(1.203 1) translate(-3.06 7.83)">*</text>
<text x="523.16" y="695.90" font-size="12.81" fill="#000" textLength="41.28" lengthAdjust="spacingAndGlyphs">Control</text>
<text x="523.76" y="710.20" font-size="12.78" fill="#000" textLength="37.66" lengthAdjust="spacingAndGlyphs">gelatin</text>
<text x="584.87" y="695.90" font-size="12.61" fill="#000" textLength="42.76" lengthAdjust="spacingAndGlyphs">Ethanol</text>
<text x="585.88" y="710.20" font-size="12.39" fill="#000" textLength="36.52" lengthAdjust="spacingAndGlyphs">gelatin</text>
<text x="482.00" y="682.04" font-size="12.76" font-weight="bold" fill="#000" textLength="141.76" lengthAdjust="spacingAndGlyphs" transform="rotate(-90 482.00 682.04)">Number of gelatin bites</text>
<text x="147.97" y="51.90" font-size="12.68" fill="#000" textLength="40.87" lengthAdjust="spacingAndGlyphs">Control</text>
<rect x="122.00" y="56.80" width="96.60" height="64.80" fill="#cbcbcb"/>
<rect x="122.00" y="56.80" width="2.60" height="64.80" fill="#8a8a8a"/>
<rect x="215.80" y="56.80" width="2.80" height="64.80" fill="#8a8a8a"/>
<rect x="122.00" y="56.80" width="96.60" height="0.90" fill="#9a9a9a"/>
<rect x="122.00" y="120.70" width="96.60" height="0.90" fill="#9a9a9a"/>
<circle cx="138.30" cy="75.30" r="14.6" fill="#b4b4b4"/>
<circle cx="138.30" cy="75.30" r="13.4" fill="#939393"/>
<circle cx="138.30" cy="75.30" r="12.6" fill="#9c9c9c"/>
<circle cx="169.10" cy="75.30" r="14.6" fill="#b4b4b4"/>
<circle cx="169.10" cy="75.30" r="13.4" fill="#939393"/>
<circle cx="169.10" cy="75.30" r="12.6" fill="#9c9c9c"/>
<circle cx="200.80" cy="75.30" r="14.6" fill="#b4b4b4"/>
<circle cx="200.80" cy="75.30" r="13.4" fill="#939393"/>
<circle cx="200.80" cy="75.30" r="12.6" fill="#9c9c9c"/>
<circle cx="138.30" cy="106.60" r="14.6" fill="#b4b4b4"/>
<circle cx="138.30" cy="106.60" r="13.4" fill="#939393"/>
<circle cx="138.30" cy="106.60" r="12.6" fill="#9c9c9c"/>
<circle cx="169.10" cy="106.60" r="14.6" fill="#b4b4b4"/>
<circle cx="169.10" cy="106.60" r="13.4" fill="#939393"/>
<circle cx="169.10" cy="106.60" r="12.6" fill="#9c9c9c"/>
<circle cx="200.80" cy="106.60" r="14.6" fill="#b4b4b4"/>
<circle cx="200.80" cy="106.60" r="13.4" fill="#939393"/>
<circle cx="200.80" cy="106.60" r="12.6" fill="#9c9c9c"/>
<rect x="137.60" y="57.20" width="1.40" height="2.00" fill="#505050"/>
<rect x="168.40" y="57.20" width="1.40" height="2.00" fill="#505050"/>
<rect x="200.10" y="57.20" width="1.40" height="2.00" fill="#505050"/>
<rect x="122.00" y="74.70" width="4.50" height="1.20" fill="#777"/>
<rect x="214.10" y="74.70" width="4.50" height="1.20" fill="#777"/>
<rect x="122.00" y="106.00" width="4.50" height="1.20" fill="#777"/>
<rect x="214.10" y="106.00" width="4.50" height="1.20" fill="#777"/>
<g stroke="#505050" stroke-width="1.0" fill="none"><path d="M151.7,72.3 L151.7,78.3 M155.7,72.3 L155.7,78.3 M149.7,75.3 L157.7,75.3"/></g>
<g stroke="#505050" stroke-width="1.0" fill="none"><path d="M182.9,72.3 L182.9,78.3 M186.9,72.3 L186.9,78.3 M180.9,75.3 L188.9,75.3"/></g>
<g stroke="#505050" stroke-width="1.0" fill="none"><path d="M151.7,103.6 L151.7,109.6 M155.7,103.6 L155.7,109.6 M149.7,106.6 L157.7,106.6"/></g>
<g stroke="#505050" stroke-width="1.0" fill="none"><path d="M182.9,103.6 L182.9,109.6 M186.9,103.6 L186.9,109.6 M180.9,106.6 L188.9,106.6"/></g>
<g stroke="#505050" stroke-width="1.0" fill="none"><path d="M166.1,88.9 L172.1,88.9 M166.1,92.9 L172.1,92.9 M169.1,86.9 L169.1,94.9"/></g>
<path d="M163.7,79.2 L162.0,77.1 L162.1,75.2 L162.7,72.4 L162.9,70.1 L166.2,66.9 L168.7,66.1 L174.6,66.0 L175.8,70.9 L178.7,72.2 L178.8,77.6 L178.3,80.7 L175.9,83.7 L171.4,85.1 L167.0,84.0 L164.1,84.1 L161.6,82.8 L159.1,79.4 L159.5,75.5 L160.7,72.4 L163.5,68.8 L167.1,67.9 L170.7,66.3 L172.9,68.7 L176.8,71.5 L178.6,75.9 L177.7,78.6 L175.2,82.2 L170.5,82.0 L168.2,80.9 L166.6,78.7 L166.2,76.9 L164.4,75.2 L165.5,73.3 L166.6,72.8 L168.8,73.5 L169.7,73.8 L171.2,73.4 L171.0,74.3 L171.4,74.9 L171.5,75.5 L170.6,76.0 L170.5,76.8 L169.7,76.9 L168.8,78.7 L168.0,76.8 L167.8,76.2 L166.9,75.4 L166.8,73.9 L167.0,72.7 L168.5,73.8 L169.1,73.5 L169.5,73.7 L170.5,73.6 L170.7,74.8 L170.7,75.6 L172.5,77.9 L171.1,80.1 L168.2,80.8 L166.8,79.0 L166.1,78.0 L165.8,76.9 L164.9,75.9 L163.9,74.6 L163.9,73.2 L164.7,71.1 L165.2,69.0 L167.6,69.4 L169.6,69.9 L171.5,69.4 L175.4,70.6 L176.7,73.6 L177.8,75.8 L177.8,79.0 L174.8,83.1 L169.6,85.1 L165.0,85.3 L162.6,83.9 L159.6,80.4 L158.6,75.2 L159.8,71.9 L162.3,67.3 L166.3,65.0 L169.7,65.7 L175.1,66.4 L178.6,70.8 L179.6,76.3 L177.4,80.1 L175.3,83.0 L172.3,84.7" fill="none" stroke="#ee3030" stroke-width="0.45" stroke-opacity="0.85" stroke-linejoin="round"/>
<path d="M171.9,80.1 L175.0,78.1 L175.0,74.5 L175.0,72.3 L174.2,70.3 L171.0,66.6 L166.9,68.7 L163.6,70.5 L163.9,72.9 L165.8,75.6 L167.0,76.7 L168.0,77.7 L168.8,79.0 L169.6,76.8 L171.4,78.0 L171.6,76.8 L173.5,76.5 L175.7,73.5 L176.3,70.7 L171.7,70.7 L169.8,70.7 L168.6,70.9 L166.9,72.6 L167.0,74.6 L165.2,75.7 L167.2,76.2 L167.7,76.6 L168.1,77.9 L169.1,77.5 L170.4,77.5 L170.4,76.3 L171.2,75.5 L172.3,74.2 L171.0,73.5 L170.6,71.6 L169.4,71.1 L168.3,70.9 L167.0,72.3 L166.8,74.1 L166.9,75.2 L167.0,76.2 L168.0,76.6 L168.5,76.8 L169.3,79.1 L171.0,78.8 L170.4,76.3 L170.7,75.6 L170.7,74.8 L170.3,74.3 L169.6,73.7 L168.3,71.5 L168.2,73.9 L165.8,73.1 L166.1,74.4 L166.4,75.3 L166.4,76.2 L167.7,76.3 L168.5,76.8 L169.0,76.9 L169.4,76.9 L170.9,77.1 L171.4,75.8 L170.7,75.0 L170.6,74.0 L169.9,73.9 L169.5,73.1 L168.9,73.7 L167.7,72.1 L166.7,73.1 L166.0,74.1 L166.2,75.6 L166.9,77.1 L167.9,78.6 L169.1,78.6 L170.0,78.7 L170.4,77.4 L172.8,77.9 L172.3,76.2 L173.9,75.2 L172.5,73.3 L173.1,71.1 L171.4,69.2 L169.9,67.1 L165.9,68.5 L164.0,69.4 L162.0,73.1 L162.6,76.0 L162.9,80.3 L164.4,83.0 L166.9,85.3" fill="none" stroke="#ee3030" stroke-width="0.45" stroke-opacity="0.85" stroke-linejoin="round"/>
<path d="M179.6,75.3 L179.5,76.4 L179.4,77.5 L179.0,78.6 L178.4,79.6 L178.2,80.7 L177.4,81.5 L176.5,82.2 L175.8,83.0 L175.0,83.8 L174.1,84.4 L173.1,84.9 L172.1,85.2 L171.0,85.5 L169.9,85.6 L168.8,85.3 L167.7,85.7 L166.5,85.7 L165.5,85.2 L164.5,84.5 L163.5,84.2 L162.8,83.2 L162.2,82.3 L161.1,81.9 L160.7,80.8 L159.7,80.1 L159.7,78.9 L159.8,77.7 L159.2,76.8 L158.3,75.8 L158.9,74.7 L159.3,73.6 L159.3,72.5 L159.3,71.4 L159.8,70.3 L160.5,69.4 L160.9,68.3 L161.8,67.6 L162.8,67.1 L163.6,66.3 L164.5,65.5 L165.6,65.2 L166.7,64.9 L167.9,65.3 L169.0,65.0 L170.1,64.8 L171.2,65.2 L172.3,65.1 L173.3,65.6 L174.4,66.1 L175.2,67.0 L176.6,67.0 L177.1,68.1 L177.5,69.3 L178.1,70.2 L179.3,70.9 L178.9,72.3 L179.5,73.2 L179.7,74.4 L179.5,75.5" fill="none" stroke="#ee3030" stroke-width="0.65" stroke-opacity="0.85" stroke-linejoin="round"/>
<path d="M162.0,105.4 L162.8,103.1 L164.2,101.7 L165.5,100.5 L167.9,99.4 L171.4,97.9 L174.6,101.0 L175.1,105.2 L173.5,107.3 L176.1,110.0 L173.4,112.7 L169.6,113.8 L166.4,111.7 L165.5,108.8 L166.5,107.3 L166.7,105.9 L166.9,104.2 L168.8,104.9 L169.6,105.1 L170.0,105.2 L170.3,105.5 L171.2,106.3 L170.7,107.0 L170.3,107.7 L170.6,110.3 L168.6,110.6 L168.0,108.4 L167.8,107.8 L167.4,107.0 L166.9,106.4 L166.8,105.0 L167.4,102.1 L169.3,102.9 L171.6,102.5 L172.1,105.0 L171.2,106.1 L171.2,106.8 L172.9,108.4 L172.1,110.2 L170.7,111.0 L168.5,110.6 L168.1,108.5 L167.8,107.6 L167.3,107.3 L166.1,106.0 L164.5,102.0 L167.0,103.0 L169.4,101.9 L171.2,102.4 L173.9,103.8 L173.9,105.6 L173.5,107.6 L173.3,111.1 L171.7,114.1 L167.3,114.1 L164.3,111.3 L162.6,109.0 L162.2,106.1 L163.2,103.5 L164.2,101.1 L166.5,99.7 L170.2,99.4 L175.2,99.3 L179.1,102.6 L179.4,108.5 L178.2,112.5 L172.9,115.6 L169.1,115.7 L165.8,115.7 L161.4,112.8 L158.9,110.1 L158.7,106.5 L159.3,102.0 L163.5,97.4 L169.3,95.8 L174.1,99.0 L175.7,103.8 L175.5,105.7 L173.2,108.2 L172.5,110.4 L172.0,114.0 L169.8,115.4 L166.4,114.4 L162.3,112.7 L160.2,107.8 L158.6,104.3 L161.1,100.3 L163.1,97.8 L166.1,96.2 L169.6,96.7" fill="none" stroke="#ee3030" stroke-width="0.45" stroke-opacity="0.85" stroke-linejoin="round"/>
<path d="M175.0,97.5 L172.2,96.3 L168.3,95.8 L164.7,96.7 L160.9,99.6 L160.1,103.7 L161.0,107.3 L161.9,110.1 L163.6,111.5 L163.5,115.7 L168.0,115.5 L170.5,113.5 L172.8,112.7 L175.9,111.5 L179.0,107.0 L176.7,104.9 L175.4,103.3 L171.8,103.1 L170.3,101.0 L167.1,101.3 L163.0,101.7 L164.3,104.9 L163.1,106.3 L162.5,109.7 L165.5,112.5 L168.9,111.7 L170.9,111.0 L172.8,109.5 L175.0,108.7 L174.5,106.5 L174.2,104.9 L174.1,101.4 L173.1,98.9 L169.3,97.3 L165.7,97.6 L162.8,97.8 L162.8,102.3 L160.7,105.6 L162.3,109.8 L163.6,111.9 L167.6,113.8 L169.4,112.8 L171.7,111.6 L172.3,109.7 L174.2,108.0 L173.9,106.7 L172.0,105.5 L172.3,104.1 L170.5,102.9 L169.2,104.2 L168.3,105.2 L166.2,104.1 L165.4,105.2 L166.3,107.2 L166.5,108.5 L167.0,110.1 L168.8,111.3 L170.6,110.8 L172.3,110.7 L173.2,109.7 L171.8,107.7 L173.7,105.7 L175.0,101.7 L172.8,100.0 L171.0,97.2 L168.5,97.9 L165.0,99.9 L162.2,101.3 L160.0,103.3 L159.3,106.8 L160.2,112.8 L162.6,115.3 L166.3,117.0 L170.3,115.2 L172.0,113.4 L175.4,110.9 L174.7,108.2 L177.0,106.7 L177.2,103.4 L174.4,102.6 L174.9,99.3 L172.5,96.7 L167.1,96.0 L164.0,97.9 L160.7,102.5 L160.4,107.0 L161.1,110.0 L163.8,113.6 L168.6,113.3 L169.9,110.9" fill="none" stroke="#ee3030" stroke-width="0.45" stroke-opacity="0.85" stroke-linejoin="round"/>
<path d="M179.5,106.6 L179.7,107.7 L179.9,109.0 L178.8,109.8 L178.4,110.8 L178.2,112.0 L177.2,112.6 L176.8,113.8 L176.0,114.5 L175.0,115.0 L174.2,115.8 L172.9,115.7 L172.1,116.8 L170.9,116.3 L169.9,116.7 L168.8,116.8 L167.7,116.7 L166.5,116.9 L165.5,116.4 L164.6,115.8 L163.5,115.5 L162.3,115.1 L161.8,114.0 L161.0,113.2 L160.1,112.5 L159.8,111.3 L159.8,110.2 L158.4,109.4 L158.2,108.3 L159.3,107.0 L158.8,105.9 L158.8,104.8 L158.8,103.7 L159.3,102.6 L160.0,101.8 L160.8,101.0 L161.2,99.9 L161.7,98.9 L163.0,98.6 L163.9,98.0 L164.7,97.2 L165.9,97.4 L166.8,96.6 L167.9,96.4 L169.0,96.1 L170.1,96.5 L171.1,96.7 L172.2,96.8 L173.3,97.1 L174.2,97.8 L175.2,98.2 L176.2,98.7 L177.1,99.5 L177.9,100.3 L177.9,101.6 L178.5,102.5 L178.3,103.7 L179.8,104.5 L179.2,105.7 L179.5,106.8" fill="none" stroke="#ee3030" stroke-width="0.65" stroke-opacity="0.85" stroke-linejoin="round"/>
<text x="146.96" y="136.50" font-size="12.64" fill="#000" textLength="42.87" lengthAdjust="spacingAndGlyphs">Ethanol</text>
<rect x="122.00" y="143.00" width="96.40" height="65.00" fill="#cbcbcb"/>
<rect x="122.00" y="143.00" width="2.60" height="65.00" fill="#8a8a8a"/>
<rect x="215.60" y="143.00" width="2.80" height="65.00" fill="#8a8a8a"/>
<rect x="122.00" y="143.00" width="96.40" height="0.90" fill="#9a9a9a"/>
<rect x="122.00" y="207.10" width="96.40" height="0.90" fill="#9a9a9a"/>
<circle cx="139.80" cy="158.30" r="14.6" fill="#b4b4b4"/>
<circle cx="139.80" cy="158.30" r="13.4" fill="#939393"/>
<circle cx="139.80" cy="158.30" r="12.6" fill="#9c9c9c"/>
<circle cx="169.80" cy="158.30" r="14.6" fill="#b4b4b4"/>
<circle cx="169.80" cy="158.30" r="13.4" fill="#939393"/>
<circle cx="169.80" cy="158.30" r="12.6" fill="#9c9c9c"/>
<circle cx="200.00" cy="158.30" r="14.6" fill="#b4b4b4"/>
<circle cx="200.00" cy="158.30" r="13.4" fill="#939393"/>
<circle cx="200.00" cy="158.30" r="12.6" fill="#9c9c9c"/>
<circle cx="139.80" cy="188.00" r="14.6" fill="#b4b4b4"/>
<circle cx="139.80" cy="188.00" r="13.4" fill="#939393"/>
<circle cx="139.80" cy="188.00" r="12.6" fill="#9c9c9c"/>
<circle cx="169.80" cy="188.00" r="14.6" fill="#b4b4b4"/>
<circle cx="169.80" cy="188.00" r="13.4" fill="#939393"/>
<circle cx="169.80" cy="188.00" r="12.6" fill="#9c9c9c"/>
<circle cx="200.00" cy="188.00" r="14.6" fill="#b4b4b4"/>
<circle cx="200.00" cy="188.00" r="13.4" fill="#939393"/>
<circle cx="200.00" cy="188.00" r="12.6" fill="#9c9c9c"/>
<rect x="139.10" y="205.30" width="1.40" height="2.00" fill="#505050"/>
<rect x="169.10" y="205.30" width="1.40" height="2.00" fill="#505050"/>
<rect x="199.30" y="205.30" width="1.40" height="2.00" fill="#505050"/>
<rect x="122.00" y="157.70" width="4.50" height="1.20" fill="#777"/>
<rect x="213.90" y="157.70" width="4.50" height="1.20" fill="#777"/>
<rect x="122.00" y="187.40" width="4.50" height="1.20" fill="#777"/>
<rect x="213.90" y="187.40" width="4.50" height="1.20" fill="#777"/>
<g stroke="#505050" stroke-width="1.0" fill="none"><path d="M152.8,155.3 L152.8,161.3 M156.8,155.3 L156.8,161.3 M150.8,158.3 L158.8,158.3"/></g>
<g stroke="#505050" stroke-width="1.0" fill="none"><path d="M182.9,155.3 L182.9,161.3 M186.9,155.3 L186.9,161.3 M180.9,158.3 L188.9,158.3"/></g>
<g stroke="#505050" stroke-width="1.0" fill="none"><path d="M152.8,185.0 L152.8,191.0 M156.8,185.0 L156.8,191.0 M150.8,188.0 L158.8,188.0"/></g>
<g stroke="#505050" stroke-width="1.0" fill="none"><path d="M182.9,185.0 L182.9,191.0 M186.9,185.0 L186.9,191.0 M180.9,188.0 L188.9,188.0"/></g>
<g stroke="#505050" stroke-width="1.0" fill="none"><path d="M166.8,171.2 L172.8,171.2 M166.8,175.2 L172.8,175.2 M169.8,169.2 L169.8,177.2"/></g>
<path d="M177.5,153.0 L180.0,157.6 L179.2,163.1 L176.8,165.9 L174.5,168.0 L169.8,169.1 L164.9,165.8 L160.8,164.3 L159.3,160.9 L162.1,158.0 L163.6,154.9 L165.7,153.3 L167.2,152.1 L170.3,150.6 L173.8,151.7 L176.1,153.4 L178.0,156.9 L179.1,159.7 L176.8,163.9 L174.8,165.5 L171.3,165.2 L169.4,164.8 L167.6,163.9 L166.7,161.9 L164.7,161.1 L164.3,158.6 L166.7,157.2 L167.1,154.6 L168.4,153.2 L170.2,151.1 L172.3,150.3 L175.4,153.3 L177.9,155.5 L177.5,158.1 L175.5,159.6 L173.5,162.1 L171.9,162.2 L170.0,161.8 L169.1,161.4 L166.4,161.6 L167.7,159.4 L167.3,158.0 L165.5,156.3 L166.2,152.4 L168.6,148.6 L172.5,147.9 L176.4,152.2 L176.4,155.2 L177.3,158.9 L176.9,163.5 L173.4,166.8 L169.9,168.3 L165.9,167.0 L162.9,165.5 L160.0,161.4 L159.8,156.9 L161.2,151.7 L163.5,149.6 L168.3,149.4 L171.4,149.9 L173.9,152.2 L175.6,155.1 L176.2,157.7 L175.8,160.6 L174.5,163.1 L172.1,166.9 L168.3,167.7 L165.2,168.1 L162.9,165.9 L160.2,162.7 L159.0,158.3 L159.4,155.3 L162.2,150.7 L165.2,150.2 L169.2,151.3 L171.7,149.3 L177.2,150.4 L180.1,155.3 L180.6,158.7 L178.4,164.5 L173.8,168.3 L167.7,168.9 L165.5,166.8 L162.2,166.0 L159.6,160.7 L159.0,157.5 L160.3,153.2 L162.9,150.6 L166.7,148.5 L169.9,147.8" fill="none" stroke="#ee3030" stroke-width="0.45" stroke-opacity="0.85" stroke-linejoin="round"/>
<path d="M178.9,163.6 L179.8,158.3 L177.7,156.0 L176.0,153.4 L171.9,152.4 L168.6,152.7 L166.2,151.7 L164.1,153.6 L162.8,157.2 L159.5,161.4 L161.3,165.0 L164.6,166.1 L169.0,169.1 L172.6,168.7 L177.0,166.3 L179.8,162.0 L180.6,158.2 L180.1,155.0 L176.5,151.7 L172.1,148.5 L169.2,148.0 L166.4,148.0 L164.2,149.5 L161.0,152.0 L160.9,155.6 L161.4,158.5 L163.0,162.0 L166.0,165.2 L168.5,166.4 L172.4,166.6 L176.6,164.1 L176.9,161.0 L176.4,159.0 L174.9,156.9 L171.6,156.7 L170.9,155.0 L169.8,154.5 L168.2,155.1 L167.1,155.9 L165.8,157.5 L168.2,158.4 L168.3,158.8 L168.5,159.3 L169.1,159.8 L170.0,160.4 L171.2,161.1 L173.0,161.9 L173.0,159.5 L174.4,158.7 L172.5,157.4 L171.1,156.9 L170.8,156.3 L170.2,155.0 L168.4,154.9 L166.1,155.3 L166.9,157.3 L168.2,158.5 L167.6,159.6 L168.8,159.5 L169.2,159.8 L170.3,160.9 L171.2,160.7 L173.9,160.7 L173.7,159.0 L173.1,157.0 L172.4,154.7 L170.4,154.6 L169.0,156.6 L167.5,156.3 L168.2,158.0 L168.2,158.7 L168.5,159.2 L168.8,159.6 L169.7,159.9 L170.3,160.5 L171.5,159.9 L172.1,159.3 L172.5,158.7 L171.3,157.7 L170.9,157.1 L170.5,156.8 L169.6,156.7 L168.6,156.7 L168.2,157.7 L167.6,158.7 L168.0,159.3 L166.7,161.5 L168.6,163.2 L171.2,164.0 L172.2,161.8" fill="none" stroke="#ee3030" stroke-width="0.45" stroke-opacity="0.85" stroke-linejoin="round"/>
<path d="M180.3,158.3 L180.2,159.4 L179.9,160.5 L179.4,161.5 L179.1,162.5 L179.0,163.7 L178.3,164.6 L177.4,165.4 L176.5,166.0 L176.0,167.2 L174.7,167.2 L173.9,168.0 L172.9,168.6 L171.7,168.4 L170.6,168.9 L169.5,168.3 L168.3,168.9 L167.3,168.4 L166.4,167.6 L165.1,167.8 L164.4,166.8 L163.1,166.7 L162.7,165.5 L161.8,164.8 L161.0,164.0 L160.7,163.0 L160.0,162.0 L159.9,160.9 L159.4,159.9 L159.4,158.8 L159.4,157.6 L160.4,156.7 L159.5,155.4 L160.2,154.4 L161.1,153.7 L161.2,152.5 L161.8,151.5 L162.4,150.6 L163.7,150.3 L164.2,149.0 L165.4,149.0 L166.2,147.8 L167.5,148.2 L168.5,147.8 L169.7,148.0 L170.7,148.3 L171.9,147.8 L173.0,148.2 L174.2,148.4 L175.1,149.1 L175.8,150.1 L176.4,151.0 L177.4,151.5 L178.1,152.4 L178.6,153.3 L179.5,154.1 L179.8,155.2 L179.9,156.3 L180.2,157.4 L180.1,158.5" fill="none" stroke="#ee3030" stroke-width="0.65" stroke-opacity="0.85" stroke-linejoin="round"/>
<path d="M198.7,162.7 L196.5,161.3 L197.2,159.5 L196.6,157.9 L197.8,156.7 L199.0,156.8 L199.3,155.6 L200.4,156.7 L200.9,156.9 L202.1,157.0 L201.6,157.9 L202.3,158.4 L201.5,158.9 L202.1,161.1 L201.4,162.1 L199.9,163.2 L197.6,163.2 L195.5,162.9 L193.7,159.6 L194.6,156.1 L197.6,156.4 L198.0,153.2 L200.6,153.6 L202.9,154.1 L204.2,154.9 L206.1,155.6 L207.1,158.1 L204.8,160.3 L202.9,161.8 L201.1,162.9 L199.3,162.8 L199.1,159.8 L198.6,159.2 L198.4,158.7 L196.9,157.5 L198.8,157.1 L199.6,156.7 L200.2,156.7 L200.8,156.9 L201.3,157.3 L201.6,158.1 L201.6,158.6 L201.3,159.2 L201.2,160.1 L200.3,161.2 L199.1,160.6 L198.7,159.3 L197.4,158.5 L198.2,158.0 L198.8,157.2 L199.5,156.7 L200.3,156.7 L200.9,157.0 L201.4,157.5 L201.6,158.4 L201.3,159.3 L200.9,159.6 L200.2,159.9 L199.5,161.1 L198.8,160.7 L198.2,160.1 L197.5,159.3 L197.7,158.2 L198.5,157.7 L198.8,157.3 L199.3,156.8 L199.8,156.3 L200.4,156.7 L201.0,156.5 L201.4,157.4 L201.6,158.0 L201.5,159.0 L201.1,159.5 L200.4,159.9 L199.7,159.9 L198.6,161.2 L198.6,159.2 L196.4,159.1 L196.4,157.7 L195.6,156.0 L196.4,155.1 L198.2,155.0 L199.6,155.9 L200.8,155.9 L201.2,157.2 L203.8,157.4 L205.2,158.5 L202.3,159.8 L202.3,161.1 L200.9,160.1" fill="none" stroke="#ee3030" stroke-width="0.45" stroke-opacity="0.85" stroke-linejoin="round"/>
<path d="M209.2,154.3 L208.0,151.4 L205.5,149.0 L202.2,149.0 L196.7,149.1 L192.9,152.7 L190.8,156.4 L192.9,160.9 L194.9,164.5 L198.6,165.4 L201.7,165.3 L204.1,162.3 L205.4,160.1 L206.6,158.5 L207.4,155.2 L206.6,152.9 L203.0,152.1 L199.3,151.4 L197.4,151.0 L195.4,153.8 L193.1,156.2 L193.9,158.9 L194.0,163.2 L196.6,166.2 L199.0,165.3 L202.4,163.6 L205.3,163.5 L206.7,160.8 L209.0,156.4 L207.5,152.3 L205.2,149.3 L201.1,148.9 L196.9,149.2 L194.2,151.8 L194.2,155.5 L194.4,157.8 L196.1,160.2 L196.3,162.0 L197.5,165.0 L201.2,165.0 L203.3,163.8 L206.2,162.3 L207.4,159.1 L206.5,155.6 L203.8,152.8 L201.7,152.0 L200.0,150.7 L195.4,149.0 L191.3,151.9 L192.1,157.0 L193.6,160.2 L196.2,161.9 L198.2,163.7 L200.6,165.8 L204.6,165.1 L206.6,163.9 L210.1,160.2 L209.2,156.5 L207.2,151.8 L203.9,151.2 L201.0,151.3 L198.1,150.9 L194.6,152.3 L192.7,155.3 L190.5,157.1 L189.8,161.7 L193.4,166.6 L197.0,168.5 L201.8,168.9 L205.2,166.1 L209.0,164.3 L210.4,161.2 L210.8,157.9 L209.3,152.9 L207.4,150.4 L202.1,147.8 L199.0,147.6 L195.5,148.5 L191.3,151.9 L189.3,157.1 L190.0,162.4 L192.8,164.0 L196.3,166.3 L201.1,165.6 L204.4,166.6 L206.0,164.9 L206.3,162.4 L205.4,160.0 L205.5,158.0 L203.9,155.6" fill="none" stroke="#ee3030" stroke-width="0.45" stroke-opacity="0.85" stroke-linejoin="round"/>
<path d="M210.3,158.3 L210.3,159.4 L209.9,160.4 L210.1,161.7 L209.1,162.4 L209.1,163.7 L208.6,164.7 L207.9,165.6 L206.6,165.9 L206.1,167.1 L204.9,167.2 L203.9,167.7 L202.8,167.9 L201.9,168.8 L200.8,169.1 L199.7,168.5 L198.6,168.3 L197.5,168.3 L196.2,168.7 L195.3,167.9 L194.5,166.9 L193.9,166.0 L192.9,165.5 L191.7,165.1 L190.8,164.3 L190.8,163.0 L190.5,161.9 L190.1,160.9 L190.3,159.8 L189.4,158.8 L190.0,157.7 L189.5,156.5 L190.5,155.6 L190.7,154.6 L190.8,153.4 L191.6,152.6 L191.9,151.4 L192.9,150.8 L193.9,150.3 L194.5,149.3 L195.5,148.7 L196.8,149.0 L197.6,147.7 L198.7,147.9 L199.9,147.7 L200.9,148.5 L202.0,148.4 L203.1,148.5 L204.3,148.5 L204.9,149.7 L205.9,150.1 L206.5,151.1 L207.7,151.4 L208.5,152.2 L208.6,153.4 L209.4,154.3 L210.0,155.2 L210.6,156.2 L210.5,157.4 L210.3,158.5" fill="none" stroke="#ee3030" stroke-width="0.65" stroke-opacity="0.85" stroke-linejoin="round"/>
<path d="M165.8,180.4 L170.1,178.4 L174.5,180.3 L177.9,183.7 L179.1,188.3 L178.7,194.1 L173.5,196.6 L169.4,197.1 L166.5,196.8 L162.1,194.7 L161.3,191.0 L161.4,187.2 L159.8,183.8 L162.1,180.4 L165.3,179.9 L168.3,180.6 L171.5,181.5 L173.7,181.0 L177.2,180.4 L179.5,184.2 L180.0,188.8 L179.4,192.9 L175.1,197.4 L169.2,196.4 L166.1,196.5 L163.5,195.1 L160.7,193.8 L159.0,188.2 L159.8,183.8 L162.1,181.9 L165.8,179.6 L171.2,178.4 L173.5,180.9 L176.2,184.5 L176.0,187.9 L176.6,190.0 L174.9,194.1 L173.1,195.2 L170.4,194.3 L165.9,195.6 L160.7,193.6 L159.0,188.6 L159.9,183.6 L161.7,180.9 L166.2,177.8 L170.0,177.9 L174.4,179.0 L176.9,181.7 L179.6,184.0 L180.6,187.1 L180.3,190.7 L179.2,193.2 L175.6,197.1 L169.7,198.8 L166.2,198.2 L162.2,194.1 L161.2,191.4 L160.6,186.1 L163.6,182.3 L166.6,181.4 L170.3,182.4 L172.0,182.6 L174.9,182.1 L177.5,184.6 L178.9,186.9 L177.9,190.3 L176.6,192.5 L175.9,196.6 L172.7,197.0 L167.4,197.2 L164.7,196.5 L161.0,192.4 L159.6,187.8 L159.7,184.1 L161.6,181.0 L167.0,177.6 L173.4,177.8 L176.5,179.9 L180.1,184.6 L180.6,188.4 L178.6,194.3 L175.7,197.1 L172.8,198.4 L168.1,198.7 L166.1,195.3 L163.1,194.5 L160.5,191.1 L159.5,185.9 L161.6,181.2 L163.8,179.0" fill="none" stroke="#ee3030" stroke-width="0.45" stroke-opacity="0.85" stroke-linejoin="round"/>
<path d="M162.5,185.4 L160.5,189.5 L163.1,193.6 L165.1,194.8 L169.2,194.5 L171.1,195.6 L174.0,192.9 L177.9,190.6 L180.5,186.8 L179.1,182.6 L174.8,178.5 L169.2,177.2 L165.3,178.2 L161.4,181.2 L161.2,184.1 L160.6,188.0 L161.5,190.5 L165.6,192.8 L167.7,193.7 L170.5,192.8 L172.7,194.5 L173.4,191.2 L172.9,188.9 L172.7,188.1 L172.4,186.4 L172.4,185.2 L171.3,184.3 L170.2,184.4 L168.4,184.5 L166.8,185.3 L167.9,187.5 L168.1,188.0 L168.4,188.9 L168.7,189.2 L169.3,189.6 L169.8,189.6 L170.9,190.5 L173.1,190.4 L171.8,188.7 L171.4,188.0 L172.2,186.6 L171.2,186.2 L170.0,186.4 L169.1,186.6 L168.4,187.1 L167.4,187.5 L165.1,188.9 L166.6,191.1 L168.5,192.6 L170.5,192.3 L173.4,191.9 L174.2,190.0 L173.6,187.8 L174.6,186.4 L173.4,184.9 L172.3,184.0 L169.6,182.7 L168.7,186.0 L166.1,185.8 L167.4,187.3 L167.6,188.5 L166.2,190.2 L166.6,192.9 L168.6,192.9 L170.2,190.1 L171.5,190.9 L172.1,189.9 L172.2,188.5 L171.3,187.4 L170.9,186.9 L170.5,186.1 L169.9,185.5 L169.3,186.4 L168.5,186.2 L168.5,187.0 L168.2,187.7 L168.2,188.4 L168.6,189.1 L169.2,189.5 L169.8,189.6 L170.4,189.6 L171.6,189.8 L172.0,188.9 L172.1,188.0 L171.9,186.8 L172.1,184.7 L171.1,183.0 L168.5,183.1 L165.8,181.7 L162.8,183.1" fill="none" stroke="#ee3030" stroke-width="0.45" stroke-opacity="0.85" stroke-linejoin="round"/>
<path d="M180.4,188.0 L180.2,189.1 L179.5,190.1 L179.8,191.3 L179.4,192.4 L178.8,193.3 L178.5,194.5 L177.3,195.0 L176.7,195.9 L175.9,196.7 L174.7,196.8 L173.9,197.9 L172.6,197.5 L171.6,197.8 L170.6,198.5 L169.5,198.0 L168.4,198.2 L167.4,197.6 L166.2,197.8 L165.4,197.0 L164.2,196.8 L163.6,195.8 L162.4,195.5 L161.8,194.5 L161.1,193.7 L160.6,192.7 L160.1,191.7 L160.2,190.5 L160.3,189.4 L159.4,188.5 L159.7,187.4 L159.7,186.3 L159.7,185.1 L160.7,184.3 L160.9,183.2 L161.4,182.3 L162.1,181.5 L162.6,180.4 L163.5,179.8 L164.5,179.4 L165.5,178.9 L166.3,178.0 L167.5,178.1 L168.5,177.5 L169.7,177.5 L170.7,178.2 L171.8,178.2 L172.9,178.1 L174.0,178.4 L175.1,178.8 L176.0,179.4 L177.0,180.1 L177.5,181.2 L178.2,182.0 L179.0,182.8 L179.2,183.9 L180.0,184.8 L179.5,186.1 L180.3,187.1 L180.1,188.2" fill="none" stroke="#ee3030" stroke-width="0.65" stroke-opacity="0.85" stroke-linejoin="round"/>
<path d="M129.2,160.5 L129.3,156.0 L132.2,150.6 L138.1,149.2 L141.6,151.3 L144.0,152.6 L144.9,155.1 L145.2,158.4 L144.0,160.6 L142.8,161.9 L140.7,161.3 L139.2,160.7 L138.6,159.4 L138.1,158.7 L138.3,157.7 L137.9,156.0 L139.2,156.8 L140.6,153.5 L143.7,152.5 L147.5,154.2 L150.6,158.8 L149.4,162.9 L147.3,165.3 L143.9,168.3 L140.6,169.1 L135.7,168.3 L132.4,166.1 L130.6,163.9 L129.1,159.9 L130.6,155.1 L132.4,153.4 L134.4,149.0 L139.3,147.5 L144.0,148.4 L146.5,151.1 L148.1,156.4 L147.6,160.1 L147.0,162.5 L144.2,165.9 L141.8,167.3 L137.7,168.0 L134.1,164.4 L130.8,163.8 L129.2,160.3 L130.0,155.1 L131.2,151.7 L133.4,149.6 L137.3,148.8 L141.2,148.9 L146.2,150.9 L149.7,154.0 L150.2,158.9 L149.8,162.5 L146.1,167.1 L142.6,168.7 L138.9,167.6 L134.1,167.5 L130.3,162.7 L131.0,159.2 L129.9,156.0 L130.8,152.3 L135.5,149.5 L138.6,148.1 L141.9,147.7 L147.1,151.0 L149.3,153.2 L149.6,157.7 L150.2,160.6 L149.2,163.5 L146.3,165.6 L143.6,167.0 L141.4,168.6 L136.5,167.8 L131.9,165.5 L130.5,162.9 L129.1,160.1 L129.3,155.7 L132.3,153.7 L134.6,151.5 L139.3,151.0 L142.0,149.8 L144.4,151.4 L148.0,153.0 L150.3,155.8 L149.0,161.5 L146.9,163.9 L143.9,167.1 L141.4,169.0 L137.1,167.7 L132.9,164.9" fill="none" stroke="#ee3030" stroke-width="0.45" stroke-opacity="0.85" stroke-linejoin="round"/>
<path d="M136.8,165.4 L138.7,167.2 L141.7,167.7 L145.2,165.1 L146.0,162.6 L146.8,159.6 L147.8,156.9 L147.3,154.2 L145.6,152.3 L142.5,151.5 L138.4,150.7 L136.4,154.5 L135.5,155.7 L134.5,158.0 L135.7,160.2 L136.4,162.7 L138.9,163.9 L141.5,166.3 L145.1,164.9 L148.3,161.2 L148.6,156.7 L147.5,154.6 L146.3,152.2 L144.0,149.3 L141.4,149.2 L138.2,147.6 L134.1,151.4 L132.9,154.1 L132.3,157.2 L133.4,159.0 L134.5,162.3 L136.4,162.7 L139.2,163.6 L140.9,163.2 L142.4,162.9 L143.7,160.3 L145.9,158.1 L146.3,155.4 L144.4,152.2 L142.2,152.0 L138.9,154.3 L136.2,154.2 L133.9,156.1 L135.1,158.6 L135.7,159.7 L137.6,160.4 L138.7,162.7 L140.0,164.4 L143.0,163.9 L144.3,161.4 L144.2,158.4 L142.8,157.3 L141.8,157.0 L141.9,155.6 L141.2,153.8 L138.7,152.1 L136.7,152.8 L133.5,153.5 L132.6,157.8 L132.6,162.1 L134.8,163.3 L138.2,164.7 L141.1,164.8 L143.5,162.9 L143.2,159.9 L144.0,157.8 L143.4,156.8 L143.7,154.9 L142.5,154.1 L140.3,152.5 L137.7,152.0 L134.8,152.8 L132.9,154.9 L131.8,156.7 L132.3,161.4 L135.1,164.2 L139.2,165.3 L142.1,164.7 L144.8,163.7 L147.2,163.1 L147.6,158.3 L145.1,154.9 L142.9,152.8 L141.4,151.2 L139.5,150.6 L137.8,153.5 L137.5,155.6 L138.2,157.8 L137.6,158.3 L138.4,159.1" fill="none" stroke="#ee3030" stroke-width="0.45" stroke-opacity="0.85" stroke-linejoin="round"/>
<path d="M150.1,158.3 L150.3,159.4 L150.0,160.5 L149.4,161.5 L149.0,162.5 L149.0,163.7 L147.8,164.3 L147.7,165.6 L146.6,166.1 L145.8,166.9 L144.6,167.0 L143.7,167.7 L142.8,168.4 L141.6,168.1 L140.6,169.2 L139.5,168.3 L138.4,168.2 L137.3,168.4 L136.2,168.2 L135.1,167.8 L134.3,167.0 L133.4,166.4 L132.6,165.6 L131.9,164.8 L131.7,163.6 L130.3,163.1 L130.0,162.0 L129.7,161.0 L129.7,159.8 L129.4,158.8 L129.5,157.6 L129.6,156.6 L129.5,155.4 L130.6,154.6 L130.6,153.4 L131.5,152.6 L132.0,151.7 L132.4,150.5 L133.7,150.3 L134.4,149.5 L135.5,149.1 L136.3,148.2 L137.5,148.5 L138.6,148.5 L139.7,147.8 L140.8,148.1 L141.9,148.2 L143.0,148.1 L143.9,149.0 L144.9,149.4 L145.9,149.9 L146.8,150.5 L147.4,151.5 L148.5,152.1 L149.4,152.9 L149.2,154.2 L150.2,155.1 L149.4,156.4 L150.5,157.4 L150.1,158.5" fill="none" stroke="#ee3030" stroke-width="0.65" stroke-opacity="0.85" stroke-linejoin="round"/>
<text x="282.27" y="285.60" font-size="12.68" fill="#000" textLength="40.87" lengthAdjust="spacingAndGlyphs">Control</text>
<rect x="270.20" y="290.10" width="65.30" height="65.60" fill="#c6c6c6"/>
<circle cx="304.20" cy="324.40" r="31" fill="#b4b4b4"/>
<circle cx="304.20" cy="324.40" r="29.8" fill="#bebebe"/>
<rect x="270.20" y="290.10" width="1.80" height="26.00" fill="#8a8a8a"/>
<circle cx="303.70" cy="299.30" r="7.4" fill="#474747"/>
<circle cx="303.70" cy="299.30" r="5.0" fill="#5c5c5c"/>
<circle cx="303.70" cy="298.30" r="2.9" fill="#a8a8a8"/>
<path d="M311.9,302.6 L314.5,302.7 L316.9,303.1 L318.2,304.1 L320.2,306.5 L322.7,308.0 L325.7,308.1 L328.3,311.2 L329.6,314.8 L329.6,316.6 L330.2,319.2 L328.7,324.6 L328.5,328.0 L328.3,330.3 L327.4,332.5 L324.6,331.9 L322.4,332.5 L322.6,326.3 L321.3,319.2 L320.2,315.9 L320.2,311.4 L321.7,310.8 L324.5,309.5 L323.4,314.5 L323.5,320.0 L323.2,326.5 L322.4,332.5 L319.1,334.2 L314.7,336.9 L312.3,338.8 L308.0,339.1 L303.6,341.6 L299.2,343.5 L295.4,345.1 L292.5,346.8 L288.4,345.2 L285.9,343.5 L282.7,339.3 L279.3,333.6 L278.2,329.1 L276.0,323.6 L281.8,322.9 L288.1,322.5 L292.4,325.4 L297.0,328.0 L294.2,331.8 L293.7,334.7 L296.4,336.1 L301.0,338.0 L304.5,327.8 L308.0,318.1 L310.1,316.4 L310.2,314.8 L310.5,318.1 L309.0,320.0 L305.5,322.0 L302.5,323.6 L299.9,327.9 L295.9,332.5 L300.4,339.3 L304.7,346.8 L308.1,347.7 L311.4,349.0 L308.7,347.1 L306.0,344.0 L303.8,340.1 L300.0,336.0 L294.6,339.0 L289.0,341.0 L285.8,338.9 L283.0,338.0 L281.1,334.0 L278.0,331.0 L282.5,327.9 L286.0,326.0 L291.1,325.4 L294.0,326.0 L297.0,329.4 L299.0,331.0 L301.4,329.9 L305.0,327.0 L308.0,323.5 L312.0,322.0" fill="none" stroke="#ff2020" stroke-width="0.6" stroke-opacity="0.95" stroke-linejoin="round"/>
<ellipse cx="303.10" cy="302.70" rx="21.7" ry="9.9" fill="none" stroke="#fff" stroke-width="1.1"/>
<line x1="336.80" y1="302.90" x2="322.00" y2="302.90" stroke="#000" stroke-width="2.0"/>
<polygon points="317.40,302.90 322.80,300.00 322.80,305.80" fill="#000"/>
<text x="338.87" y="300.50" font-size="8.96" fill="#000" textLength="49.30" lengthAdjust="spacingAndGlyphs">Novel object</text>
<text x="339.45" y="310.60" font-size="8.73" fill="#000" textLength="18.94" lengthAdjust="spacingAndGlyphs">zone</text>
<text x="281.85" y="370.20" font-size="12.76" fill="#000" textLength="43.28" lengthAdjust="spacingAndGlyphs">Ethanol</text>
<rect x="270.20" y="374.60" width="65.30" height="65.60" fill="#c6c6c6"/>
<circle cx="304.20" cy="408.90" r="31" fill="#b4b4b4"/>
<circle cx="304.20" cy="408.90" r="29.8" fill="#bebebe"/>
<rect x="270.20" y="374.60" width="1.80" height="26.00" fill="#8a8a8a"/>
<circle cx="303.70" cy="383.80" r="7.4" fill="#474747"/>
<circle cx="303.70" cy="383.80" r="5.0" fill="#5c5c5c"/>
<circle cx="303.70" cy="382.80" r="2.9" fill="#a8a8a8"/>
<path d="M327.5,421.8 L330.3,419.9 L327.6,417.9 L326.9,414.5 L328.0,411.3 L329.4,408.2 L329.7,404.8 L329.6,408.2 L331.1,411.3 L331.7,414.6 L330.0,417.6 L327.1,419.3 L326.3,422.6 L325.1,425.8 L323.7,428.9 L320.3,429.5 L317.6,427.5 L315.7,424.6 L316.5,421.3 L316.4,417.9 L319.3,416.1 L321.5,413.5 L324.4,411.6 L327.8,411.8 L330.6,409.9 L332.3,406.9 L330.2,404.2 L328.4,401.4 L326.5,398.5 L324.0,396.2 L322.4,393.2" fill="none" stroke="#ff1010" stroke-width="0.55" stroke-opacity="0.95" stroke-linejoin="round"/>
<path d="M316.8,404.9 L316.8,408.3 L319.6,410.3 L323.0,410.3 L325.9,411.9 L327.1,415.1 L324.6,417.5 L325.7,420.7 L323.8,423.6 L322.7,426.8 L322.1,430.1 L324.7,428.0 L321.9,426.2 L319.9,423.4 L318.4,420.4 L315.5,418.5 L314.2,415.4 L311.4,413.6 L308.1,412.7 L304.7,412.0 L301.5,411.2 L304.8,411.6 L308.2,411.0 L306.3,408.2 L306.1,404.8 L307.1,401.5 L308.5,398.4 L309.0,395.1 L307.9,391.9 L306.4,388.8 L307.5,385.6" fill="none" stroke="#ff1010" stroke-width="0.55" stroke-opacity="0.95" stroke-linejoin="round"/>
<path d="M313.6,431.0 L315.8,428.4 L316.2,425.0 L319.1,423.2 L322.3,421.9 L325.6,421.3 L325.5,417.9 L325.9,414.5 L323.3,412.3 L320.1,411.4 L316.7,412.1 L313.7,413.7 L311.2,411.3 L312.3,408.1 L309.8,405.9 L306.8,404.4 L303.4,404.6 L300.0,404.5 L303.1,405.8 L306.5,406.0 L309.3,407.8 L310.0,411.2 L310.8,414.5 L312.7,417.3 L313.4,420.6 L313.9,424.0 L312.3,427.0 L310.5,429.9 L308.5,432.6 L310.2,435.6 L309.7,432.2" fill="none" stroke="#ff1010" stroke-width="0.55" stroke-opacity="0.95" stroke-linejoin="round"/>
<path d="M308.3,405.9 L311.0,403.8 L310.6,400.4 L307.9,398.2 L308.2,394.8 L305.0,393.6 L303.1,390.8 L305.9,388.7 L309.1,387.7 L312.3,386.4 L315.6,386.9 L318.5,388.7 L321.3,390.7 L324.3,392.3 L324.2,395.7 L323.7,399.1 L321.2,401.4 L318.1,402.8 L315.1,401.2 L313.6,398.2 L310.5,396.9 L308.0,394.6 L308.8,391.3 L312.0,390.0 L314.7,388.0 L317.7,389.7 L319.2,392.8 L319.2,396.2 L320.7,399.2 L321.2,402.6 L320.6,405.9" fill="none" stroke="#ff1010" stroke-width="0.55" stroke-opacity="0.95" stroke-linejoin="round"/>
<path d="M319.0,425.5 L317.6,422.4 L314.7,420.5 L311.4,419.5 L308.2,420.5 L305.0,419.2 L302.3,417.1 L302.4,413.7 L303.4,410.4 L303.1,407.1 L305.0,404.3 L305.5,400.9 L304.9,397.5 L304.0,394.3 L303.2,391.0 L305.0,388.1 L308.4,387.8 L310.7,390.3 L312.0,393.4 L313.7,396.4 L316.8,397.9 L319.2,400.3 L321.0,403.1 L320.4,406.5 L317.3,408.0 L314.6,406.0 L313.7,402.7 L310.8,400.9 L308.9,398.1 L305.5,397.5 L302.2,398.4" fill="none" stroke="#ff1010" stroke-width="0.55" stroke-opacity="0.95" stroke-linejoin="round"/>
<path d="M303.3,391.8 L301.7,394.8 L301.9,398.2 L303.1,401.4 L306.5,401.6 L309.8,402.2 L312.9,400.8 L316.3,400.2 L314.7,397.2 L311.7,395.5 L309.2,393.3 L307.2,396.1 L305.9,399.2 L304.4,402.3 L302.7,405.2 L304.3,408.2 L305.5,411.4 L306.3,414.7 L308.9,416.9 L310.2,420.0 L311.6,423.1 L313.0,426.2 L315.2,428.8 L316.4,432.0 L313.0,432.0 L309.8,433.3 L313.0,432.0 L315.7,430.0 L318.9,428.8 L322.3,429.4 L325.3,427.8" fill="none" stroke="#ff1010" stroke-width="0.55" stroke-opacity="0.95" stroke-linejoin="round"/>
<path d="M317.7,414.0 L318.6,410.7 L321.2,412.8 L324.5,411.8 L327.7,410.8 L329.5,407.9 L326.3,408.8 L324.2,411.5 L321.1,410.1 L320.2,406.8 L321.7,403.7 L325.1,403.1 L328.4,403.8 L330.4,401.1 L327.3,399.7 L325.3,402.4 L321.9,402.7 L319.6,400.2 L316.6,398.5 L313.8,396.6 L312.4,393.5 L310.7,390.6 L311.5,387.2 L312.5,384.0 L311.5,387.2 L309.1,389.6 L306.7,392.1 L305.4,395.2 L304.6,398.5 L301.5,399.9 L301.2,403.3" fill="none" stroke="#ff1010" stroke-width="0.55" stroke-opacity="0.95" stroke-linejoin="round"/>
<path d="M312.6,434.0 L313.7,430.8 L316.4,428.8 L314.7,425.9 L313.4,422.7 L314.0,419.4 L317.0,417.8 L318.5,414.7 L318.5,411.3 L315.2,410.3 L312.1,411.6 L308.7,411.7 L308.0,408.4 L305.2,406.5 L305.1,403.1 L305.9,399.8 L305.6,396.4 L309.0,395.8 L307.9,392.6 L306.8,389.4 L306.1,386.1 L309.3,385.0 L311.4,387.6 L308.8,389.8 L306.1,391.8 L302.7,391.6 L305.4,393.6 L306.9,396.7 L305.3,399.7 L302.4,401.4 L299.1,402.1" fill="none" stroke="#ff1010" stroke-width="0.55" stroke-opacity="0.95" stroke-linejoin="round"/>
<path d="M328.5,412.7 L329.1,409.3 L329.2,405.9 L327.5,403.0 L325.9,400.0 L323.4,397.6 L321.3,395.0 L324.7,394.6 L328.0,395.1 L324.7,395.4 L323.5,392.2 L324.0,388.8 L325.5,391.9 L327.4,394.7 L324.0,394.7 L321.1,393.0 L319.0,390.3 L316.3,392.3 L313.5,394.3 L311.4,396.9 L308.4,398.5 L306.3,395.8 L303.6,393.8 L305.1,396.9 L308.0,398.7 L310.9,400.4 L313.3,402.8 L313.2,406.2 L312.3,409.5 L313.9,412.5 L313.9,415.9" fill="none" stroke="#ff1010" stroke-width="0.55" stroke-opacity="0.95" stroke-linejoin="round"/>
<path d="M313.3,412.1 L310.7,410.0 L307.3,410.1 L305.6,413.1 L305.0,416.4 L304.3,413.1 L303.1,409.9 L300.6,407.6 L303.9,407.1 L306.5,404.9 L309.8,404.1 L312.7,402.2 L315.8,401.0 L319.1,400.0 L322.4,399.1 L322.5,395.7 L319.7,393.7 L316.8,391.9 L316.7,388.5 L315.3,385.4 L316.4,388.6 L314.3,391.2 L310.9,391.2 L307.7,390.1 L306.3,393.2 L303.0,393.7 L301.4,396.7 L301.7,400.1 L304.0,402.6 L307.4,402.7 L306.8,406.1" fill="none" stroke="#ff1010" stroke-width="0.55" stroke-opacity="0.95" stroke-linejoin="round"/>
<path d="M327.3,394.0 L325.7,391.0 L323.4,388.5 L321.0,386.1 L317.6,385.7 L314.2,386.0 L311.7,388.3 L312.1,391.6 L313.1,394.9 L314.9,397.8 L317.9,399.3 L321.3,398.8 L323.7,396.4 L326.5,394.5 L326.2,397.9 L323.8,400.3 L322.7,403.6 L322.1,406.9 L324.2,409.6 L327.3,411.0 L330.3,412.6 L330.5,416.0 L327.4,417.3 L326.3,420.5 L325.6,423.8 L325.9,427.2 L327.4,424.2 L325.7,421.2 L324.8,417.9 L326.1,414.8 L323.5,412.7" fill="none" stroke="#ff1010" stroke-width="0.55" stroke-opacity="0.95" stroke-linejoin="round"/>
<path d="M319.1,405.6 L315.7,406.0 L314.6,409.2 L312.6,411.9 L309.9,414.0 L307.3,416.1 L304.0,417.2 L306.9,419.0 L307.0,422.4 L310.2,421.3 L311.8,424.3 L314.0,426.9 L317.4,427.3 L318.9,424.2 L320.9,421.5 L322.9,418.8 L323.8,415.5 L323.7,412.1 L321.7,409.4 L318.6,408.0 L315.4,406.8 L312.0,407.1 L308.8,405.8 L305.6,404.9 L302.4,403.6 L299.7,401.6 L299.5,398.2 L300.7,395.0 L302.4,392.0 L303.7,388.9 L302.2,391.9" fill="none" stroke="#ff1010" stroke-width="0.55" stroke-opacity="0.95" stroke-linejoin="round"/>
<path d="M323.1,400.2 L319.8,400.9 L318.5,404.0 L317.6,407.3 L316.3,410.4 L317.0,413.8 L316.9,417.2 L317.3,420.5 L319.4,423.2 L322.8,423.3 L325.6,425.2 L323.1,427.5 L322.3,430.8 L321.5,427.5 L318.6,425.6 L315.2,426.1 L312.4,424.2 L309.4,422.6 L306.8,420.4 L304.3,418.2 L307.1,416.2 L309.8,414.2 L312.3,411.8 L312.8,408.5 L311.8,405.2 L308.4,405.3 L305.2,404.2 L302.0,405.5 L304.7,403.3 L305.1,400.0 L306.5,396.9" fill="none" stroke="#ff1010" stroke-width="0.55" stroke-opacity="0.95" stroke-linejoin="round"/>
<path d="M316.5,389.7 L315.5,392.0 L317.4,394.9 L318.4,398.2 L319.4,400.6 L321.1,404.1 L321.0,406.3 L321.8,408.3 L323.0,411.9 L324.0,414.0 L323.5,416.2 L326.9,418.8 L327.8,423.0" fill="none" stroke="#ff1010" stroke-width="0.55" stroke-opacity="0.9" stroke-linejoin="round"/>
<path d="M305.6,392.1 L307.2,393.6 L307.3,396.7 L309.6,399.5 L311.3,401.1 L312.4,404.1 L313.9,407.2 L315.2,409.5 L317.0,412.5 L319.4,414.7 L322.3,417.3 L325.3,420.0 L327.7,423.2" fill="none" stroke="#ff1010" stroke-width="0.55" stroke-opacity="0.9" stroke-linejoin="round"/>
<path d="M310.7,388.3 L310.9,390.6 L311.4,394.1 L313.4,397.1 L314.0,400.1 L314.2,403.5 L317.4,406.5 L318.3,409.4 L319.7,413.2 L319.8,414.6 L321.7,418.0 L324.3,420.5 L326.9,425.1" fill="none" stroke="#ff1010" stroke-width="0.55" stroke-opacity="0.9" stroke-linejoin="round"/>
<path d="M317.0,384.8 L315.8,387.2 L316.6,388.6 L316.8,387.6 L318.2,388.9 L319.1,389.6 L318.7,390.5 L319.4,390.7 L320.8,391.8 L323.0,392.6 L324.4,393.6 L326.5,393.4 L327.9,396.2" fill="none" stroke="#ff1010" stroke-width="0.55" stroke-opacity="0.9" stroke-linejoin="round"/>
<path d="M312.4,386.6 L313.6,388.7 L316.4,391.0 L317.8,393.2 L319.5,394.4 L318.9,396.5 L320.3,399.6 L320.9,401.1 L324.5,403.7 L326.1,405.2 L327.0,408.2 L329.3,411.1 L331.7,412.6" fill="none" stroke="#ff1010" stroke-width="0.55" stroke-opacity="0.9" stroke-linejoin="round"/>
<path d="M316.0,386.2 L317.5,387.1 L318.2,390.0 L319.4,392.4 L320.8,394.1 L321.4,395.0 L322.3,396.2 L322.7,397.3 L324.3,398.4 L326.8,399.9 L328.2,401.1 L329.4,401.9 L329.9,402.3" fill="none" stroke="#ff1010" stroke-width="0.55" stroke-opacity="0.9" stroke-linejoin="round"/>
<path d="M308.3,385.0 L308.6,389.8 L311.1,394.2 L311.7,397.7 L312.0,400.9 L313.0,404.8 L313.7,408.3 L315.1,412.5 L316.0,416.2 L317.6,420.0 L318.6,423.0 L319.0,427.2 L320.4,430.7" fill="none" stroke="#ff1010" stroke-width="0.55" stroke-opacity="0.9" stroke-linejoin="round"/>
<path d="M312.8,390.0 L312.1,394.1 L310.2,398.2 L310.2,402.2 L309.1,406.2 L308.3,409.8 L308.9,414.0 L308.9,418.7 L309.2,421.5 L308.6,424.5 L309.9,428.0 L310.5,431.2 L311.1,435.0" fill="none" stroke="#ff1010" stroke-width="0.55" stroke-opacity="0.9" stroke-linejoin="round"/>
<path d="M310.6,386.8 L309.0,392.0 L307.1,395.7 L305.4,399.9 L305.9,403.0 L302.9,406.6 L300.6,411.2 L301.7,414.7 L300.0,418.9 L299.1,422.5 L299.7,427.1 L299.5,430.9 L300.7,436.9" fill="none" stroke="#ff1010" stroke-width="0.55" stroke-opacity="0.9" stroke-linejoin="round"/>
<path d="M315.5,385.2 L315.6,389.4 L314.9,394.5 L316.4,398.3 L316.6,403.0 L317.4,407.2 L317.3,411.2 L318.5,414.8 L317.8,419.7 L318.2,422.4 L318.1,425.4 L317.5,428.5 L318.8,430.5" fill="none" stroke="#ff1010" stroke-width="0.55" stroke-opacity="0.9" stroke-linejoin="round"/>
<path d="M315.4,389.8 L317.0,393.6 L317.7,395.4 L317.6,397.7 L319.8,400.7 L320.9,403.0 L323.1,405.7 L322.9,407.3 L324.4,408.8 L326.5,410.8 L328.2,411.1 L329.1,413.3 L330.6,415.1" fill="none" stroke="#ff1010" stroke-width="0.55" stroke-opacity="0.9" stroke-linejoin="round"/>
<path d="M314.7,390.7 L314.1,393.7 L315.0,395.7 L315.3,399.7 L315.0,400.2 L316.5,403.8 L318.9,405.5 L320.1,407.9 L321.5,409.8 L323.1,412.2 L325.8,415.4 L326.3,416.4 L329.7,418.4" fill="none" stroke="#ff1010" stroke-width="0.55" stroke-opacity="0.9" stroke-linejoin="round"/>
<path d="M313.5,390.3 L312.9,390.9 L313.4,390.9 L315.3,391.4 L315.2,391.1 L316.2,392.6 L317.3,391.1 L318.5,392.5 L320.5,392.6 L322.1,392.0 L322.5,392.7 L324.6,391.9 L326.1,392.3" fill="none" stroke="#ff1010" stroke-width="0.55" stroke-opacity="0.9" stroke-linejoin="round"/>
<path d="M310.1,386.4 L310.8,386.8 L311.5,388.4 L313.2,388.2 L314.8,388.7 L315.3,389.6 L317.9,390.0 L318.5,389.5 L318.1,391.5 L320.0,389.6 L321.1,390.6 L321.1,389.4 L323.1,389.0" fill="none" stroke="#ff1010" stroke-width="0.55" stroke-opacity="0.9" stroke-linejoin="round"/>
<path d="M312.1,391.4 L312.7,392.1 L311.6,393.8 L313.8,393.4 L313.8,395.5 L315.6,395.2 L316.4,395.3 L318.0,396.1 L318.5,396.8 L321.4,396.3 L323.9,395.6 L325.9,395.2 L327.9,395.2" fill="none" stroke="#ff1010" stroke-width="0.55" stroke-opacity="0.9" stroke-linejoin="round"/>
<path d="M314.8,387.6 L314.7,390.3 L315.9,390.3 L316.9,391.0 L318.2,392.1 L319.6,392.4 L319.4,395.0 L321.4,395.0 L323.4,395.4 L324.0,394.7 L324.4,396.6 L327.1,396.7 L327.3,395.3" fill="none" stroke="#ff1010" stroke-width="0.55" stroke-opacity="0.9" stroke-linejoin="round"/>
<path d="M291.6,390.3 L292.8,395.2 L295.5,398.5 L298.1,404.1 L299.3,407.2 L301.7,410.6 L304.8,416.0 L307.2,420.0 L308.1,424.0" fill="none" stroke="#ff1a1a" stroke-width="0.5" stroke-opacity="0.85" stroke-linejoin="round"/>
<path d="M290.2,390.8 L292.3,393.6 L294.2,399.8 L295.4,403.3 L298.0,407.9 L298.7,412.3 L299.9,417.1 L302.7,423.1 L303.7,426.6" fill="none" stroke="#ff1a1a" stroke-width="0.5" stroke-opacity="0.85" stroke-linejoin="round"/>
<path d="M295.8,386.6 L297.2,392.2 L297.9,396.4 L300.1,402.9 L301.2,408.8 L302.8,414.3 L304.7,420.4 L305.6,426.4 L307.2,431.9" fill="none" stroke="#ff1a1a" stroke-width="0.5" stroke-opacity="0.85" stroke-linejoin="round"/>
<path d="M292.2,391.7 L292.5,396.2 L293.3,402.1 L294.7,407.4 L295.6,412.5 L296.4,416.1 L297.9,421.9 L298.5,426.9 L298.6,431.9" fill="none" stroke="#ff1a1a" stroke-width="0.5" stroke-opacity="0.85" stroke-linejoin="round"/>
<path d="M290.2,390.8 L293.0,396.0 L295.7,399.2 L297.1,403.2 L298.8,407.5 L300.3,411.7 L301.8,416.0 L304.3,419.4 L306.2,424.4" fill="none" stroke="#ff1a1a" stroke-width="0.5" stroke-opacity="0.85" stroke-linejoin="round"/>
<path d="M293.5,387.7 L295.2,393.8 L295.9,398.7 L295.9,403.4 L298.3,408.8 L299.4,413.9 L299.1,418.8 L300.4,425.0 L301.9,430.2" fill="none" stroke="#ff1a1a" stroke-width="0.5" stroke-opacity="0.85" stroke-linejoin="round"/>
<path d="M282.2,396.9 L280.7,400.9 L279.5,406.7 L278.2,410.9 L279.2,415.5 L280.0,418.9 L280.2,422.9 L283.2,425.0 L284.9,427.7 L288.2,428.9 L291.1,426.4 L293.7,425.0 L296.2,422.9 L294.7,420.9 L290.7,417.8 L290.2,414.9 L289.0,411.1 L285.3,408.4 L284.2,404.9 L287.7,401.1 L290.3,396.7 L294.2,392.9 L298.3,391.9 L303.3,390.4 L306.2,388.9 L304.6,395.1 L304.1,403.5 L302.2,410.9 L300.8,417.7 L299.9,424.7 L298.2,432.9 L294.9,433.6 L291.7,434.9 L288.2,434.9 L284.8,432.3 L282.0,428.8 L278.2,426.9 L280.7,424.3 L284.0,421.2 L286.2,418.9 L291.3,419.8 L294.8,419.5 L300.2,420.9 L302.2,424.3 L305.6,427.9 L308.2,430.9" fill="none" stroke="#ff1a1a" stroke-width="0.55" stroke-opacity="0.9" stroke-linejoin="round"/>
<path d="M320.2,385.7 L322.6,386.7 L323.4,389.2 L321.7,387.2 L320.5,385.0 L318.9,382.9 L316.4,382.2 L315.3,379.8 L317.8,380.7 L317.9,383.3 L317.8,385.9 L319.1,388.2 L321.5,389.0 L324.1,389.0 L322.0,387.5 L320.7,385.3 L319.7,382.9 L317.7,384.5 L315.7,386.2 L313.4,387.3 L313.3,389.9" fill="none" stroke="#ff1a1a" stroke-width="0.5" stroke-opacity="0.9" stroke-linejoin="round"/>
<path d="M318.1,389.9 L320.7,389.7 L323.2,389.0 L322.0,386.7 L321.0,384.3 L320.8,386.9 L321.6,389.4 L322.1,391.9 L322.2,389.3 L324.8,388.7 L324.1,386.2 L321.5,386.0 L320.3,383.7 L322.9,383.7 L320.4,382.8 L318.4,381.2 L315.8,381.2 L313.6,382.6 L312.5,384.9 L311.2,387.2 L310.4,389.7" fill="none" stroke="#ff1a1a" stroke-width="0.5" stroke-opacity="0.9" stroke-linejoin="round"/>
<path d="M322.1,391.7 L322.0,389.1 L322.0,386.5 L323.0,384.1 L320.5,384.7 L318.1,383.8 L316.6,381.7 L315.5,379.3 L317.5,381.0 L317.8,383.6 L318.4,386.1 L319.5,388.5 L319.9,391.0 L321.5,388.9 L320.1,386.7 L319.9,384.1 L320.6,381.6 L322.1,383.7 L321.3,386.1 L323.5,387.6 L323.8,385.0" fill="none" stroke="#ff1a1a" stroke-width="0.5" stroke-opacity="0.9" stroke-linejoin="round"/>
<path d="M317.8,389.3 L320.2,390.4 L322.7,389.6 L324.1,387.4 L321.9,388.8 L321.1,391.3 L323.3,390.0 L324.7,387.8 L323.4,385.5 L322.1,383.3 L320.4,381.3 L318.0,380.3 L316.0,381.9 L316.5,384.5 L315.8,386.9 L313.7,388.5 L311.6,387.0 L311.6,389.6 L310.7,392.0 L310.2,394.6 L312.4,396.0" fill="none" stroke="#ff1a1a" stroke-width="0.5" stroke-opacity="0.9" stroke-linejoin="round"/>
<ellipse cx="303.10" cy="387.20" rx="21.7" ry="9.9" fill="none" stroke="#fff" stroke-width="1.1"/>
<line x1="336.80" y1="387.40" x2="322.00" y2="387.40" stroke="#000" stroke-width="2.0"/>
<polygon points="317.40,387.40 322.80,384.50 322.80,390.30" fill="#000"/>
<text x="338.87" y="382.60" font-size="8.96" fill="#000" textLength="49.30" lengthAdjust="spacingAndGlyphs">Novel object</text>
<text x="339.45" y="393.00" font-size="8.73" fill="#000" textLength="18.94" lengthAdjust="spacingAndGlyphs">zone</text>
<text x="366.37" y="531.10" font-size="12.61" fill="#000" textLength="40.66" lengthAdjust="spacingAndGlyphs">Control</text>
<rect x="354.20" y="535.00" width="65.40" height="65.00" fill="#c4c4c4"/>
<circle cx="386.50" cy="567.60" r="31" fill="#b3b3b3"/>
<circle cx="386.50" cy="567.60" r="29.8" fill="#bdbdbd"/>
<path d="M413.6,567.6 L415.2,569.6 L413.9,571.5 L413.3,573.3 L413.8,575.4 L412.3,577.0 L413.0,579.4 L411.5,580.9 L410.5,582.6 L409.7,584.4 L408.1,585.7 L406.9,587.3 L405.5,588.7 L404.5,590.6 L402.5,591.4 L400.6,591.9 L398.9,593.1 L396.8,593.1 L395.4,595.1 L393.2,594.6 L391.4,595.3 L389.5,595.7 L387.5,596.1 L385.5,595.5 L383.6,595.4 L381.6,595.2 L379.9,594.0 L377.8,594.3 L375.8,594.1 L373.9,593.5 L372.5,591.8 L370.9,590.7 L368.8,590.2 L367.7,588.5 L365.7,587.7 L365.1,585.6 L363.5,584.3 L362.5,582.6 L361.4,580.9 L360.3,579.3 L359.8,577.3 L359.3,575.4 L358.9,573.5 L357.8,571.6 L358.0,569.6 L358.2,567.6 L358.9,565.7 L358.2,563.6 L359.1,561.8 L360.0,560.0 L359.9,557.9 L361.0,556.2 L361.5,554.3 L362.4,552.5 L363.7,551.0 L365.0,549.6 L366.2,548.0 L366.8,545.7 L369.3,545.6 L370.9,544.5 L372.5,543.4 L374.3,542.6 L375.9,541.5 L377.9,541.0 L379.6,540.0 L381.6,539.7 L383.5,539.0 L385.5,539.3 L387.5,539.2 L389.5,539.3 L391.2,540.9 L393.4,540.1 L395.2,540.8 L397.0,541.7 L398.9,542.1 L400.5,543.3 L402.5,543.9 L404.1,545.1 L405.0,547.0 L407.1,547.7 L407.7,549.8 L409.6,550.8 L411.2,552.1 L412.0,554.0 L411.9,556.3 L413.8,557.7 L414.5,559.6 L414.3,561.7 L414.7,563.6 L415.6,565.6 L415.0,567.6" fill="none" stroke="#ff1010" stroke-width="0.9" stroke-opacity="0.95" stroke-linejoin="round"/>
<path d="M383.0,594.5 L380.9,594.8 L379.0,594.4 L376.9,594.1 L374.8,593.8 L373.2,592.4 L371.3,591.6 L370.3,589.5 L368.6,588.4 L366.8,587.4 L365.4,586.0 L363.4,584.9 L362.5,583.0 L362.5,580.7 L360.8,579.3 L360.7,577.1 L359.9,575.3 L359.2,573.4 L358.9,571.4 L358.6,569.4 L358.9,567.4 L358.4,565.3 L359.1,563.4 L359.4,561.4 L360.2,559.5 L360.5,557.5 L361.7,555.8 L362.6,554.1 L363.0,551.9 L364.3,550.4 L365.7,548.8 L367.2,547.5 L369.0,546.5 L370.7,545.4 L371.8,543.4 L373.8,542.8 L375.5,541.8 L377.5,541.2 L379.3,540.3 L381.5,540.7 L383.3,539.5" fill="none" stroke="#ff1010" stroke-width="0.9" stroke-opacity="0.95" stroke-linejoin="round"/>
<path d="M371.3,588.5 L368.7,588.9 L366.7,588.3 L365.9,586.4 L364.8,585.0 L364.3,583.0 L362.2,582.2 L361.9,580.2 L360.7,578.8 L360.0,577.0 L360.1,575.0 L359.9,573.2 L358.6,571.6 L358.5,569.7 L358.7,567.8 L358.5,566.0 L359.6,564.2 L359.4,562.3 L359.2,560.4 L360.1,558.7 L362.8,557.8 L361.5,555.3 L363.0,554.0 L363.8,552.3 L364.6,550.6 L364.9,548.5 L368.2,549.1 L368.9,547.3 L369.0,544.4 L371.7,544.9 L372.3,542.3" fill="none" stroke="#ff1010" stroke-width="0.6" stroke-opacity="0.95" stroke-linejoin="round"/>
<path d="M410.1,551.5 L410.2,553.5 L411.3,554.9 L412.5,556.4 L413.5,557.9 L413.4,559.9 L413.9,561.6 L414.0,563.4 L415.3,565.1 L413.7,566.9 L414.6,568.7 L414.7,570.5 L414.2,572.3 L413.5,574.0 L413.5,575.8 L412.4,577.4 L411.6,578.9 L412.0,581.1 L411.0,582.7 L409.0,583.6 L408.2,585.2 L407.5,586.9 L405.8,587.8 L404.4,588.9 L403.0,590.1 L401.2,590.5" fill="none" stroke="#ff1010" stroke-width="0.7" stroke-opacity="0.95" stroke-linejoin="round"/>
<path d="M373.8,564.6 L371.0,564.2 L368.4,565.3 L366.4,567.2 L363.8,568.0 L361.1,567.1 L359.7,564.6 L361.5,562.5 L361.5,559.7 L363.4,557.6 L365.6,555.8 L368.1,554.7 L369.2,552.1 L368.6,549.3 L371.4,549.9 L374.0,551.0 L376.7,551.4 L379.5,552.1 L381.9,553.5 L382.9,556.1 L385.6,556.9 L388.3,556.2 L390.2,554.2 L392.8,553.1 L395.0,554.8 L397.0,556.8 L398.9,558.9 L399.5,561.6 L402.2,562.3 L405.0,562.7 L405.9,560.1 L407.1,557.5 L407.6,554.7 L407.5,551.9 L404.8,552.7 L402.4,554.1 L399.7,555.1 L397.7,553.2 L395.4,551.7 L393.8,549.3 L391.5,547.7" fill="none" stroke="#ff2020" stroke-width="0.55" stroke-opacity="0.95" stroke-linejoin="round"/>
<path d="M402.8,570.0 L402.8,572.8 L402.8,575.6 L402.8,578.4 L403.5,581.1 L404.9,583.5 L404.2,580.8 L404.0,578.0 L404.4,575.3 L405.4,572.7 L408.1,571.7 L410.6,572.9 L407.8,572.5 L405.2,571.6 L402.7,572.9 L401.1,575.2 L398.8,576.8 L396.4,578.2 L393.6,578.8 L391.0,578.0 L388.2,578.4 L385.4,578.4 L382.9,577.1 L380.1,576.9 L378.2,574.9 L375.4,575.1 L372.6,575.7 L370.8,573.6 L368.7,571.7 L366.8,569.7 L365.3,567.3 L363.6,565.1 L362.7,562.5 L362.0,559.8 L363.9,557.7 L366.5,558.6 L369.3,558.2 L372.1,558.5 L374.4,560.0 L377.2,559.8 L379.8,558.7" fill="none" stroke="#ff2020" stroke-width="0.55" stroke-opacity="0.95" stroke-linejoin="round"/>
<path d="M396.4,576.5 L394.0,575.1 L391.3,575.4 L388.9,576.9 L386.3,575.9 L383.6,576.8 L380.9,577.5 L378.1,577.7 L375.5,576.7 L372.7,576.6 L370.0,575.7 L368.4,573.5 L366.7,571.2 L365.9,568.6 L364.2,566.4 L363.4,563.7 L362.5,561.0 L361.2,558.6 L363.9,558.7 L366.3,557.2 L367.2,554.6 L368.4,552.0 L369.2,549.3 L370.4,551.9 L369.5,554.5 L369.1,557.3 L368.6,560.1 L367.0,562.3 L364.7,564.0 L362.6,565.8 L362.8,568.6 L361.5,571.0 L361.2,568.2 L360.4,565.5 L360.7,562.7 L362.3,560.5 L364.4,558.6 L366.9,557.2 L369.4,556.1 L372.2,555.9 L375.0,556.3" fill="none" stroke="#ff2020" stroke-width="0.55" stroke-opacity="0.95" stroke-linejoin="round"/>
<path d="M371.9,577.3 L374.3,578.8 L376.9,577.7 L378.6,575.5 L379.4,572.8 L379.6,570.0 L379.4,567.2 L378.0,564.8 L377.2,562.1 L377.7,559.3 L379.8,557.5 L382.0,555.8 L384.6,554.6 L387.4,554.5 L389.5,556.2 L392.0,557.6 L393.9,559.7 L396.5,560.5 L399.3,560.0 L401.4,558.2 L404.0,557.0 L406.5,555.8 L409.0,554.6 L408.9,557.4 L408.1,560.0 L408.8,562.8 L408.0,565.4 L409.2,568.0 L411.0,570.1 L413.1,571.9 L412.7,569.1 L412.4,566.3 L412.1,563.6 L412.2,560.8 L411.3,558.1 L410.4,555.5 L410.1,558.3 L409.8,561.0 L410.4,563.8 L413.2,564.0 L411.8,566.4" fill="none" stroke="#ff2020" stroke-width="0.55" stroke-opacity="0.95" stroke-linejoin="round"/>
<path d="M371.4,565.5 L368.9,566.8 L367.0,568.9 L365.1,570.9 L362.8,572.5 L360.4,573.9 L361.1,571.2 L362.3,568.7 L363.3,566.1 L363.2,563.3 L362.3,560.6 L361.5,558.0 L364.1,558.8 L366.9,559.0 L369.4,560.3 L370.9,562.7 L373.3,564.0 L374.9,566.4 L376.2,568.8 L375.4,571.5 L374.4,574.1 L373.9,576.9 L374.2,579.7 L374.8,582.4 L376.0,584.9 L378.6,585.9 L381.2,587.0 L383.9,587.3 L386.1,589.1 L387.6,591.5 L389.5,593.5 L387.1,592.1 L385.6,589.7 L385.2,587.0 L384.8,584.2 L385.4,581.5 L384.6,578.8 L384.5,576.0 L384.4,573.2 L384.0,570.4 L383.4,567.7" fill="none" stroke="#ff2020" stroke-width="0.55" stroke-opacity="0.95" stroke-linejoin="round"/>
<path d="M381.0,588.5 L379.3,586.3 L376.5,585.9 L374.0,587.2 L371.4,588.2 L369.9,585.8 L368.4,583.4 L367.6,580.8 L367.1,578.0 L368.6,575.7 L370.8,573.9 L371.5,571.2 L374.0,569.8 L376.1,568.0 L377.9,565.8 L380.3,564.5 L382.7,563.1 L384.9,561.3 L386.8,559.2 L388.4,556.9 L390.9,555.7 L393.6,554.9 L396.3,555.8 L397.3,558.4 L397.4,561.2 L398.5,563.8 L399.3,566.5 L399.6,569.3 L401.3,571.5 L403.0,573.7 L405.6,574.9 L407.1,577.2 L409.9,577.8 L407.7,579.7 L406.3,582.1 L404.9,584.5 L403.8,587.0 L401.0,587.5 L398.4,588.3 L397.0,590.8 L399.5,589.6" fill="none" stroke="#ff2020" stroke-width="0.55" stroke-opacity="0.95" stroke-linejoin="round"/>
<path d="M391.0,541.5 L391.7,543.3 L391.3,545.3 L390.4,547.1 L389.0,545.7 L388.4,543.8 L388.4,541.8 L386.5,542.2 L384.9,543.4 L383.9,545.1 L381.9,545.1 L380.1,544.1 L378.5,543.0 L380.2,544.1 L382.1,544.6 L383.9,545.6 L385.4,546.9 L385.6,544.9 L386.3,543.0 L387.4,541.3 L389.0,540.2" fill="none" stroke="#ff2020" stroke-width="0.55" stroke-opacity="0.95" stroke-linejoin="round"/>
<path d="M378.0,589.5 L378.7,591.4 L378.2,593.4 L379.7,594.8 L379.6,592.8 L381.5,593.3 L379.5,593.6 L381.5,593.1 L382.9,591.7 L383.9,590.0 L382.8,588.3 L384.1,589.8 L384.4,591.7 L382.4,591.9 L381.2,590.2 L381.6,588.3 L381.5,590.3 L380.6,592.0 L382.6,592.0 L384.5,592.7 L385.2,594.5" fill="none" stroke="#ff2020" stroke-width="0.55" stroke-opacity="0.95" stroke-linejoin="round"/>
<ellipse cx="384.80" cy="543.80" rx="14.4" ry="4.4" fill="none" stroke="#fff" stroke-width="1.1"/>
<ellipse cx="385.40" cy="591.40" rx="15.0" ry="4.9" fill="none" stroke="#fff" stroke-width="1.1"/>
<line x1="420.60" y1="542.80" x2="398.70" y2="542.80" stroke="#000" stroke-width="2.2"/>
<polygon points="393.70,542.80 399.70,539.80 399.70,545.80" fill="#000"/>
<line x1="420.60" y1="590.80" x2="398.70" y2="590.80" stroke="#000" stroke-width="2.2"/>
<polygon points="393.70,590.80 399.70,587.80 399.70,593.80" fill="#000"/>
<text x="423.14" y="540.00" font-size="9.11" fill="#000" textLength="29.35" lengthAdjust="spacingAndGlyphs">Control</text>
<text x="423.42" y="549.90" font-size="9.05" fill="#000" textLength="26.67" lengthAdjust="spacingAndGlyphs">gelatin</text>
<text x="422.87" y="587.40" font-size="8.94" fill="#000" textLength="30.32" lengthAdjust="spacingAndGlyphs">Ethanol</text>
<text x="423.42" y="597.10" font-size="9.05" fill="#000" textLength="26.67" lengthAdjust="spacingAndGlyphs">gelatin</text>
<text x="365.26" y="613.40" font-size="12.67" fill="#000" textLength="42.97" lengthAdjust="spacingAndGlyphs">Ethanol</text>
<rect x="354.20" y="617.90" width="65.40" height="65.00" fill="#c4c4c4"/>
<circle cx="386.50" cy="650.50" r="31" fill="#b3b3b3"/>
<circle cx="386.50" cy="650.50" r="29.8" fill="#bdbdbd"/>
<path d="M415.5,650.5 L414.6,652.5 L414.8,654.5 L414.2,656.4 L413.3,658.2 L413.3,660.2 L412.7,662.2 L411.8,664.0 L409.8,665.1 L409.3,667.1 L408.2,668.7 L406.9,670.2 L405.0,671.1 L404.5,673.5 L402.0,673.4 L400.4,674.7 L399.2,676.6 L397.2,676.9 L395.1,677.1 L393.3,677.7 L391.5,678.7 L389.4,678.4 L387.5,679.1 L385.5,679.0 L383.5,678.9 L381.5,678.8 L379.7,677.7 L377.9,676.8 L376.2,676.1 L374.1,675.9 L372.5,674.7 L370.3,674.6 L369.3,672.5 L367.1,672.1 L366.2,670.1 L364.8,668.7 L364.3,666.7 L362.5,665.5 L360.9,664.1 L361.2,661.8 L359.4,660.4 L358.9,658.4 L358.4,656.5 L358.9,654.4 L357.6,652.5 L358.7,650.5 L357.6,648.5 L357.9,646.5 L359.6,644.8 L358.6,642.5 L359.1,640.5 L360.7,639.0 L362.1,637.5 L362.6,635.5 L363.7,633.9 L364.5,632.1 L366.4,631.1 L367.8,629.8 L369.0,628.1 L370.6,626.9 L372.7,626.7 L374.0,624.9 L376.0,624.5 L377.8,623.8 L379.6,622.8 L381.5,622.3 L383.5,622.1 L385.5,621.4 L387.5,622.1 L389.5,622.3 L391.4,622.5 L393.5,622.4 L395.3,623.3 L397.2,624.1 L399.1,624.6 L400.3,626.6 L402.6,626.6 L404.2,627.9 L405.4,629.6 L406.4,631.3 L407.6,632.8 L408.6,634.4 L410.7,635.4 L411.5,637.2 L412.0,639.1 L413.5,640.7 L413.3,642.8 L414.6,644.5 L414.9,646.5 L415.0,648.5 L414.3,650.5" fill="none" stroke="#ff1010" stroke-width="0.9" stroke-opacity="0.95" stroke-linejoin="round"/>
<path d="M383.0,677.6 L380.9,677.8 L378.8,677.7 L377.2,676.2 L375.1,676.0 L373.2,675.4 L372.0,673.4 L369.5,673.5 L368.4,671.5 L367.1,670.1 L365.5,668.8 L364.3,667.2 L363.5,665.3 L362.3,663.7 L361.3,662.0 L360.9,660.0 L359.4,658.4 L359.0,656.3 L358.6,654.3 L359.5,652.2 L358.9,650.3 L358.5,648.2 L359.1,646.3 L360.2,644.5 L359.8,642.3 L359.7,640.1 L361.0,638.4 L362.3,636.8 L363.8,635.4 L364.2,633.1 L365.6,631.7 L367.3,630.5 L368.8,629.2 L370.1,627.6 L372.0,626.8 L373.9,626.0 L375.8,625.4 L377.5,624.3 L379.5,623.7 L381.4,623.4 L383.2,620.9" fill="none" stroke="#ff1010" stroke-width="0.9" stroke-opacity="0.95" stroke-linejoin="round"/>
<path d="M370.9,672.0 L369.7,670.6 L367.9,670.0 L365.7,669.6 L363.8,668.7 L365.0,665.5 L363.3,664.5 L361.6,663.3 L361.8,661.2 L360.1,659.9 L360.3,657.9 L358.7,656.4 L359.1,654.4 L357.7,652.7 L360.0,650.7 L358.1,648.8 L359.5,647.1 L358.6,645.1 L360.3,643.6 L359.8,641.5 L360.3,639.7 L361.6,638.2 L363.4,637.1 L364.1,635.4 L365.0,633.9 L366.0,632.4 L366.6,630.3 L369.1,630.4 L370.0,628.6 L371.4,627.4 L373.0,626.5" fill="none" stroke="#ff1010" stroke-width="0.6" stroke-opacity="0.95" stroke-linejoin="round"/>
<path d="M359.9,654.3 L357.1,653.3 L358.6,651.8 L359.5,650.5 L358.7,649.2 L357.3,647.8 L358.1,646.5 L357.6,645.1 L358.7,643.9 L360.1,643.0 L361.6,642.1 L361.4,640.7 L361.0,639.2 L363.3,638.8 L362.4,637.0 L363.6,636.2 L362.4,633.8 L366.2,635.0 L363.0,630.8 L365.3,630.9 L367.2,631.0 L367.7,629.6 L367.6,627.4 L369.3,627.4 L371.1,627.6 L372.3,627.2 L373.9,627.5 L374.1,625.0 L375.1,623.9 L376.7,624.4 L377.9,623.9" fill="none" stroke="#ff1010" stroke-width="0.7" stroke-opacity="0.95" stroke-linejoin="round"/>
<path d="M392.5,661.6 L390.5,663.8 L389.0,666.4 L388.0,669.3 L386.7,672.0 L384.9,674.3 L381.9,674.3 L378.9,673.8 L381.9,673.3 L384.8,673.9 L387.2,672.1 L389.7,670.5 L391.8,668.3 L394.0,666.3 L395.8,663.9 L397.4,661.3 L399.1,658.9 L401.1,656.6 L402.4,653.9 L401.2,651.2 L399.3,648.9 L397.8,646.2 L395.7,644.1 L393.9,641.7 L391.8,639.6 L389.1,638.2 L387.2,635.9 L386.9,632.9 L386.4,629.9 L384.6,632.3 L384.2,635.3 L385.5,638.0 L387.6,640.2 L389.1,642.7 L391.0,645.1 L391.8,648.0 L393.3,650.5 L395.9,652.1 L398.2,654.0 L400.5,655.9 L403.5,656.5 L405.7,658.5 L407.8,660.7 L410.5,661.8 L407.7,660.9 L404.7,660.8" fill="none" stroke="#ff2020" stroke-width="0.55" stroke-opacity="0.95" stroke-linejoin="round"/>
<path d="M381.1,658.4 L382.1,661.2 L384.1,663.5 L385.3,666.2 L386.4,669.0 L388.5,671.2 L390.4,673.4 L393.2,674.5 L390.3,673.9 L387.9,672.1 L385.2,670.8 L382.2,670.4 L379.3,669.9 L376.3,670.5 L373.3,670.1 L375.9,668.6 L378.0,666.4 L379.4,663.8 L380.6,661.0 L380.9,658.0 L382.7,655.7 L385.2,653.9 L388.1,653.4 L391.1,653.6 L394.1,653.8 L396.4,655.7 L398.3,658.1 L399.7,660.7 L400.7,663.6 L400.8,666.6 L400.7,669.5 L400.7,672.5 L403.3,670.9 L400.5,672.2 L398.0,673.7 L395.2,674.8 L392.2,674.2 L389.5,673.0 L386.5,672.6 L384.3,670.6 L383.0,667.9 L381.7,665.2 L379.3,663.4 L377.1,661.3 L374.9,659.3 L373.1,656.9" fill="none" stroke="#ff2020" stroke-width="0.55" stroke-opacity="0.95" stroke-linejoin="round"/>
<path d="M409.5,655.3 L407.6,652.9 L406.1,650.4 L404.9,647.6 L404.3,644.7 L405.0,641.7 L404.5,638.8 L401.9,637.2 L398.9,637.4 L396.6,635.5 L393.8,634.4 L391.2,633.0 L388.5,631.5 L386.3,629.5 L387.7,632.2 L389.5,634.6 L391.1,637.1 L392.3,639.9 L394.2,642.1 L395.0,645.0 L394.6,648.0 L393.7,650.9 L393.0,653.8 L392.4,656.7 L393.6,659.5 L394.1,662.4 L395.6,665.0 L397.5,667.4 L398.5,670.2 L400.4,672.6 L403.2,671.5 L405.1,669.2 L402.9,671.2 L401.8,668.4 L402.5,665.5 L403.3,662.6 L404.4,659.8 L404.3,656.8 L406.0,654.3 L407.7,651.9 L408.1,648.9 L409.4,646.2 L409.1,643.2 L408.2,640.3 L405.6,638.9 L403.9,636.4" fill="none" stroke="#ff2020" stroke-width="0.55" stroke-opacity="0.95" stroke-linejoin="round"/>
<path d="M373.1,636.9 L371.2,636.2 L370.4,634.3 L369.6,636.2 L368.2,634.7 L366.8,633.3 L367.9,634.9 L367.8,636.9 L369.1,638.4 L370.8,639.4 L369.2,640.6 L368.4,638.7 L369.7,637.1 L370.9,635.5 L369.1,634.7 L368.9,632.7 L367.1,633.6 L368.7,634.8 L370.5,635.7 L372.3,636.5 L370.4,637.2 L368.6,638.1 L367.8,640.0" fill="none" stroke="#ff2020" stroke-width="0.55" stroke-opacity="0.95" stroke-linejoin="round"/>
<path d="M366.9,633.7 L367.3,635.7 L367.7,637.6 L368.8,639.3 L370.6,640.1 L371.7,638.4 L369.9,639.3 L370.6,641.1 L370.7,639.2 L368.7,639.4 L366.9,638.6 L366.6,640.6 L364.6,640.8 L362.9,641.9 L362.9,639.9 L364.4,638.6 L366.3,639.2 L364.3,639.8 L362.7,638.6 L364.0,640.1 L365.9,641.0 L367.8,640.7 L369.3,639.3" fill="none" stroke="#ff2020" stroke-width="0.55" stroke-opacity="0.95" stroke-linejoin="round"/>
<path d="M367.5,643.9 L369.5,643.6 L370.7,642.0 L372.2,640.6 L373.4,639.0 L372.8,637.1 L372.4,635.2 L373.2,637.0 L371.2,637.0 L369.3,637.6 L367.3,637.2 L366.4,635.4 L366.9,633.5 L367.2,635.4 L365.3,635.0 L367.2,634.6 L368.5,633.1 L366.6,632.7 L365.6,634.4 L367.2,635.6 L369.2,635.3 L369.8,637.1 L371.7,637.9" fill="none" stroke="#ff2020" stroke-width="0.55" stroke-opacity="0.95" stroke-linejoin="round"/>
<path d="M388.4,625.2 L386.6,624.3 L384.7,623.8 L382.9,623.0 L380.9,623.3 L379.4,624.7 L377.9,626.0 L377.4,627.9 L377.6,625.9 L377.0,624.0 L378.9,623.5 L380.9,623.8 L382.9,624.0 L381.4,625.3 L381.5,627.3 L382.7,628.9 L384.2,630.3 L382.8,628.8 L381.5,627.2 L380.0,628.5 L379.5,630.4 L381.4,629.8 L382.6,628.2 L382.7,626.2 L381.6,624.5 L380.3,626.1" fill="none" stroke="#ff2020" stroke-width="0.55" stroke-opacity="0.95" stroke-linejoin="round"/>
<ellipse cx="384.80" cy="626.70" rx="14.4" ry="4.4" fill="none" stroke="#fff" stroke-width="1.1"/>
<ellipse cx="385.40" cy="674.30" rx="15.0" ry="4.9" fill="none" stroke="#fff" stroke-width="1.1"/>
<line x1="420.60" y1="625.70" x2="398.70" y2="625.70" stroke="#000" stroke-width="2.2"/>
<polygon points="393.70,625.70 399.70,622.70 399.70,628.70" fill="#000"/>
<line x1="420.60" y1="673.70" x2="398.70" y2="673.70" stroke="#000" stroke-width="2.2"/>
<polygon points="393.70,673.70 399.70,670.70 399.70,676.70" fill="#000"/>
<text x="423.14" y="625.20" font-size="9.11" fill="#000" textLength="29.35" lengthAdjust="spacingAndGlyphs">Control</text>
<text x="423.42" y="634.60" font-size="9.05" fill="#000" textLength="26.67" lengthAdjust="spacingAndGlyphs">gelatin</text>
<text x="422.87" y="669.50" font-size="8.94" fill="#000" textLength="30.32" lengthAdjust="spacingAndGlyphs">Ethanol</text>
<text x="423.42" y="678.90" font-size="9.05" fill="#000" textLength="26.67" lengthAdjust="spacingAndGlyphs">gelatin</text>
</svg></body></html>
